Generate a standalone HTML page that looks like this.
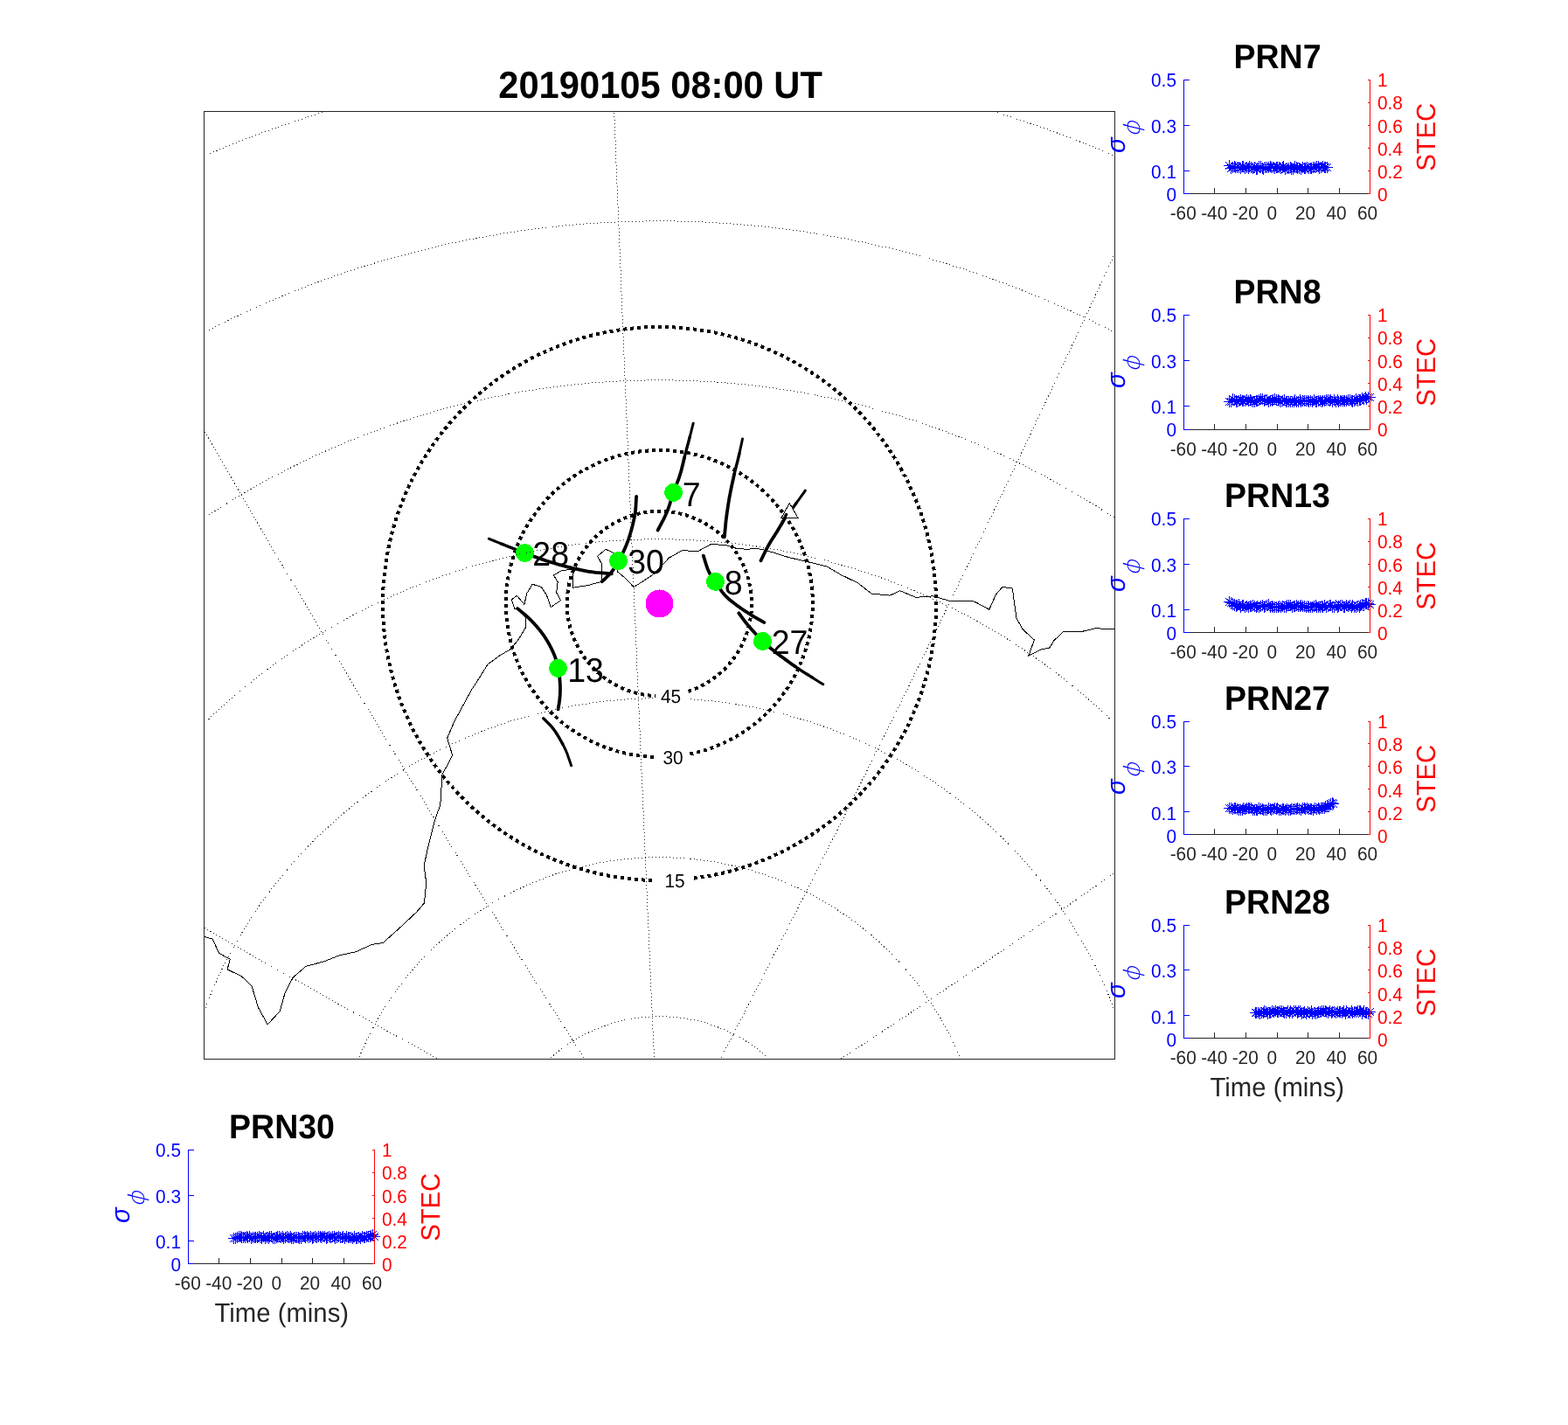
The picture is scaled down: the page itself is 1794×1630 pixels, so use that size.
<!DOCTYPE html>
<html><head><meta charset="utf-8"><title>20190105 08:00 UT</title>
<style>html,body{margin:0;padding:0;background:#fff}svg{display:block}</style></head>
<body><svg width="1794" height="1630" viewBox="0 0 1794 1630" font-family='"Liberation Sans", Arial, Helvetica, sans-serif' text-rendering="geometricPrecision">
<rect width="1794" height="1630" fill="#fff"/>
<defs><clipPath id="mapclip"><rect x="234" y="128" width="1041" height="1083"/></clipPath></defs>
<g clip-path="url(#mapclip)">
<polyline fill="none" stroke="#000" stroke-width="1" shape-rendering="crispEdges" points="230,1071.1 233.9,1071.5 243.3,1074.1 250.4,1090.2 263.3,1097.3 260.1,1108.9 276.2,1116.6 288,1127.8 295.5,1152.5 306.2,1171.8 320.2,1156.8 326.2,1135.3 335.2,1118.1 350.2,1105.2 370.6,1099.9 387.8,1093 407.2,1088.7 425.4,1080.5 438.3,1078.4 458.7,1060.1 476.9,1043 485.5,1032.9 487.7,1009.7 485.1,990.3 489.8,968.9 497.3,938.8 503.8,920.6 505.9,886.2 517.7,864.1 511.7,844.3 519.9,825 540,788.2 547.7,776.6 558,759.9 572.2,749.6 584.4,742.5 594.1,730.2 601.6,717.4 601.8,707.1 592.3,696.9 589,696.9 585.4,685.8 591.4,681.3 599.9,691.3 602.9,678.5 609.2,668.3 619.1,671.3 625.2,680.2 630.2,694.5 641.6,686.7 636.7,678 638.2,665.7 633.5,657.9 642.5,652.7 655.3,651.2 655.6,672.2 672.6,669.6 688.7,665.2 688.7,645.6 683.7,636.2 693,628.4 701,631.7 707.7,641.7 706.6,654 716,661.8 725,671.5 737.2,664 748.4,656.2 759.5,644.5 766.2,637.3 765.5,638.1 780.3,629.8 799,630.4 813.1,622.7 829.9,623.3 844,627.8 856.9,628.2 860.8,627.2 871.1,628.2 884,631.7 902,637.5 921.3,642 945.8,647.8 962.2,657.5 981.5,666.8 997,679 1018,681.1 1029.8,675.8 1047.7,683.3 1067.4,681.8 1085.7,687.2 1111.4,687.2 1116.8,689.1 1131.8,697.2 1139.4,680.1 1146.9,671.5 1158.3,673 1160.8,691.9 1163,707.3 1170.1,719.8 1183.4,732 1176.9,749.9 1191.5,742.8 1200.6,741.3 1205.9,732.7 1216.7,722.4 1237.1,722.6 1253.2,718.7 1274.6,719.8 1277.9,719.8"/>
<g fill="none" stroke="#000" stroke-width="4" stroke-dasharray="4 4" shape-rendering="crispEdges">
<path d="M793.7,1004.6 A316.5,316.5 0 1 0 749.6,1007"/>
<path d="M789.4,862.5 A175.5,175.5 0 1 0 750.7,866"/>
<path d="M787.4,790.8 A105.6,105.6 0 1 0 750,796"/>
</g>
<g fill="none" stroke="#000" stroke-linecap="round">
<path stroke-width="3.0" d="M559.3,616.2L560.8,616.8M560.8,616.8L562.7,617.6M562.7,617.6L565,618.5M565,618.5L567.6,619.6M567.6,619.6L570.3,620.7M570.3,620.7L573.1,621.8M793.2,484.2L792.8,485.6M792.8,485.6L792.4,487.4M792.4,487.4L791.8,489.6M791.8,489.6L791.2,492M791.2,492L790.6,494.6M790.6,494.6L789.9,497.2M789.9,497.2L789.2,499.8M849.5,502L849.2,503.5M849.2,503.5L848.8,505.5M848.8,505.5L848.3,507.8M848.3,507.8L847.7,510.5M847.7,510.5L847.1,513.2M847.1,513.2L846.5,516.1M846.5,516.1L845.9,518.9M921.3,561.2L920.5,562.3M920.5,562.3L919.5,563.8M919.5,563.8L918.2,565.5M918.2,565.5L916.9,567.4M916.9,567.4L915.4,569.5M915.4,569.5L913.9,571.6M913.9,571.6L912.4,573.6M912.4,573.6L911,575.6M929.6,775.2L931.6,776.4M931.6,776.4L933.6,777.7M933.6,777.7L935.6,779M935.6,779L937.5,780.2M937.5,780.2L939.2,781.2M939.2,781.2L940.6,782.1M940.6,782.1L941.7,782.8M643.6,850.8L644.4,852.3M644.4,852.3L645.2,853.9M645.2,853.9L646,855.4M646,855.4L646.7,857M646.7,857L647.5,858.7M647.5,858.7L648.2,860.4M648.2,860.4L649,862.3M649,862.3L649.7,864.4M649.7,864.4L650.5,866.7M650.5,866.7L651.3,868.9M651.3,868.9L652,871M652,871L652.7,873M652.7,873L653.2,874.6M653.2,874.6L653.6,875.8"/>
<path stroke-width="3.4" d="M573.1,621.8L575.9,622.9M575.9,622.9L578.6,624M578.6,624L581.3,625.1M581.3,625.1L584,626.1M584,626.1L586.9,627.3M586.9,627.3L589.8,628.4M589.8,628.4L592.6,629.5M592.6,629.5L595.4,630.6M789.2,499.8L788.6,502.2M788.6,502.2L788,504.5M788,504.5L787.4,506.9M787.4,506.9L786.7,509.3M786.7,509.3L786.1,511.7M786.1,511.7L785.4,514.1M785.4,514.1L784.8,516.6M784.8,516.6L784.1,519M784.1,519L783.5,521.5M783.5,521.5L782.9,524M845.9,518.9L845.3,521.5M845.3,521.5L844.7,524M844.7,524L844.1,526.5M844.1,526.5L843.5,529M843.5,529L842.8,531.5M842.8,531.5L842.2,534M842.2,534L841.5,536.7M841.5,536.7L840.8,539.3M840.8,539.3L840.2,542.1M911,575.6L909.6,577.5M909.6,577.5L908.2,579.4M908.2,579.4L906.7,581.3M906.7,581.3L905.2,583.2M905.2,583.2L903.7,585.1M903.7,585.1L902.2,587.1M902.2,587.1L900.8,589.1M900.8,589.1L899.4,591.1M899.4,591.1L898.1,593.1M898.1,593.1L896.7,595.2M896.7,595.2L895.4,597.3M909.8,762.4L911.7,763.7M911.7,763.7L913.6,765M913.6,765L915.4,766.2M915.4,766.2L917.2,767.4M917.2,767.4L919,768.5M919,768.5L920.8,769.6M920.8,769.6L922.5,770.7M922.5,770.7L924.3,771.8M924.3,771.8L926,772.9M926,772.9L927.8,774M927.8,774L929.6,775.2M621.8,821.7L622.7,822.6M622.7,822.6L623.8,823.7M623.8,823.7L625.2,825.1M625.2,825.1L626.7,826.6M626.7,826.6L628.3,828.2M628.3,828.2L629.9,829.9M629.9,829.9L631.4,831.6M631.4,831.6L632.8,833.3M632.8,833.3L634,835M634,835L635.3,836.7M635.3,836.7L636.4,838.5M636.4,838.5L637.6,840.3M637.6,840.3L638.7,842.2M638.7,842.2L639.8,844M639.8,844L640.8,845.8M640.8,845.8L641.8,847.5M641.8,847.5L642.7,849.2M642.7,849.2L643.6,850.8"/>
<path stroke-width="3.8" d="M595.4,630.6L598.1,631.6M598.1,631.6L600.6,632.6M600.6,632.6L602.9,633.5M602.9,633.5L605.1,634.3M605.1,634.3L607.1,635.1M607.1,635.1L609.1,635.9M609.1,635.9L611.1,636.6M611.1,636.6L613.1,637.3M613.1,637.3L615.1,638M615.1,638L617.3,638.8M617.3,638.8L619.6,639.6M619.6,639.6L621.9,640.4M621.9,640.4L624.3,641.2M624.3,641.2L626.8,642M626.8,642L629.2,642.8M629.2,642.8L631.7,643.5M631.7,643.5L634.2,644.3M634.2,644.3L636.6,645M636.6,645L639,645.7M639,645.7L641.4,646.4M641.4,646.4L643.9,647M643.9,647L646.3,647.7M646.3,647.7L648.7,648.3M648.7,648.3L651.2,648.9M651.2,648.9L653.6,649.5M653.6,649.5L656,650.1M656,650.1L658.4,650.7M658.4,650.7L660.7,651.2M660.7,651.2L663,651.7M663,651.7L665.3,652.2M665.3,652.2L667.7,652.7M667.7,652.7L670.1,653.2M670.1,653.2L672.6,653.6M672.6,653.6L675.3,654M675.3,654L678.3,654.4M678.3,654.4L681.6,654.8M681.6,654.8L685.2,655.1M685.2,655.1L688.8,655.4M688.8,655.4L692.2,655.7M692.2,655.7L695.3,656M695.3,656L697.9,656.2M697.9,656.2L699.8,656.4M728.1,567.9L728,569.3M728,569.3L727.9,571.2M727.9,571.2L727.8,573.5M727.8,573.5L727.6,576M727.6,576L727.5,578.6M727.5,578.6L727.3,581.2M727.3,581.2L727.1,583.7M727.1,583.7L726.8,586M726.8,586L726.5,588.1M726.5,588.1L726.2,590M726.2,590L725.8,592M725.8,592L725.4,593.9M725.4,593.9L725,595.7M725,595.7L724.5,597.6M724.5,597.6L724.1,599.5M724.1,599.5L723.6,601.4M723.6,601.4L723.1,603.3M723.1,603.3L722.6,605.3M722.6,605.3L722.1,607.3M722.1,607.3L721.5,609.2M721.5,609.2L720.9,611.2M720.9,611.2L720.3,613.1M720.3,613.1L719.7,615M719.7,615L719.1,616.9M719.1,616.9L718.4,618.8M718.4,618.8L717.7,620.6M717.7,620.6L717,622.4M717,622.4L716.3,624.3M716.3,624.3L715.5,626M715.5,626L714.8,627.8M714.8,627.8L714,629.4M714,629.4L713.3,631M713.3,631L712.6,632.5M712.6,632.5L711.9,633.8M711.9,633.8L711.2,635.1M711.2,635.1L710.5,636.4M710.5,636.4L709.8,637.6M709.8,637.6L709.1,638.9M709.1,638.9L708.3,640.2M708.3,640.2L707.5,641.6M707.5,641.6L706.7,643.1M706.7,643.1L705.8,644.6M705.8,644.6L704.9,646.2M704.9,646.2L704,647.9M704,647.9L703,649.5M703,649.5L702,651.1M702,651.1L700.9,652.7M700.9,652.7L699.8,654.2M699.8,654.2L698.5,655.7M698.5,655.7L697,657.3M697,657.3L695.4,658.9M695.4,658.9L693.8,660.5M693.8,660.5L692.3,662M692.3,662L690.9,663.3M690.9,663.3L689.7,664.4M689.7,664.4L688.8,665.2M782.9,524L782.3,526.5M782.3,526.5L781.7,529.1M781.7,529.1L781.1,531.7M781.1,531.7L780.4,534.3M780.4,534.3L779.8,536.9M779.8,536.9L779.1,539.5M779.1,539.5L778.3,542.1M778.3,542.1L777.5,544.7M777.5,544.7L776.6,547.3M776.6,547.3L775.6,550M775.6,550L774.6,552.6M774.6,552.6L773.6,555.3M773.6,555.3L772.6,558M772.6,558L771.6,560.7M771.6,560.7L770.6,563.4M770.6,563.4L769.7,566.2M769.7,566.2L768.7,569M768.7,569L767.8,571.9M767.8,571.9L766.9,574.7M766.9,574.7L766,577.6M766,577.6L765,580.5M765,580.5L764,583.3M764,583.3L762.9,586M762.9,586L761.7,588.8M761.7,588.8L760.3,591.8M760.3,591.8L758.8,594.8M758.8,594.8L757.3,597.7M757.3,597.7L755.8,600.5M755.8,600.5L754.5,602.9M754.5,602.9L753.4,605M753.4,605L752.6,606.6M840.2,542.1L839.5,545M839.5,545L838.9,548M838.9,548L838.2,551M838.2,551L837.5,554.1M837.5,554.1L836.9,557.2M836.9,557.2L836.2,560.4M836.2,560.4L835.6,563.5M835.6,563.5L835,566.6M835,566.6L834.4,569.7M834.4,569.7L833.9,572.8M833.9,572.8L833.4,575.8M833.4,575.8L832.9,578.9M832.9,578.9L832.5,582M832.5,582L832,585.1M832,585.1L831.6,588.1M831.6,588.1L831.2,591.1M831.2,591.1L830.8,594.2M830.8,594.2L830.4,597.5M830.4,597.5L830.1,600.9M830.1,600.9L829.8,604.2M829.8,604.2L829.5,607.4M829.5,607.4L829.2,610.2M829.2,610.2L829,612.5M829,612.5L828.8,614.3M895.4,597.3L894.2,599.4M894.2,599.4L892.9,601.6M892.9,601.6L891.6,603.7M891.6,603.7L890.4,605.8M890.4,605.8L889.1,607.9M889.1,607.9L887.8,610M887.8,610L886.5,612.1M886.5,612.1L885.1,614.2M885.1,614.2L883.8,616.3M883.8,616.3L882.5,618.3M882.5,618.3L881.2,620.4M881.2,620.4L880,622.5M880,622.5L878.8,624.6M878.8,624.6L877.6,626.8M877.6,626.8L876.4,629.2M876.4,629.2L875.2,631.6M875.2,631.6L874,634M874,634L872.9,636.3M872.9,636.3L871.9,638.3M871.9,638.3L871.1,640M871.1,640L870.5,641.3M804.8,635.6L805.2,637M805.2,637L805.8,638.8M805.8,638.8L806.5,641.1M806.5,641.1L807.2,643.5M807.2,643.5L808,646.1M808,646.1L808.9,648.6M808.9,648.6L809.7,651M809.7,651L810.6,653M810.6,653L811.5,654.8M811.5,654.8L812.3,656.4M812.3,656.4L813.2,657.8M813.2,657.8L814.2,659.3M814.2,659.3L815.1,660.7M815.1,660.7L816.1,662.1M816.1,662.1L817.2,663.6M817.2,663.6L818.3,665.2M818.3,665.2L819.5,667M819.5,667L820.7,668.8M820.7,668.8L821.9,670.8M821.9,670.8L823.2,672.7M823.2,672.7L824.5,674.7M824.5,674.7L825.9,676.6M825.9,676.6L827.2,678.3M827.2,678.3L828.6,680M828.6,680L830,681.5M830,681.5L831.4,682.9M831.4,682.9L832.8,684.2M832.8,684.2L834.2,685.5M834.2,685.5L835.7,686.7M835.7,686.7L837.2,687.9M837.2,687.9L838.7,689.1M838.7,689.1L840.2,690.3M840.2,690.3L841.8,691.5M841.8,691.5L843.4,692.7M843.4,692.7L845.1,693.9M845.1,693.9L846.7,695M846.7,695L848.4,696.2M848.4,696.2L850,697.3M850,697.3L851.6,698.3M851.6,698.3L853.1,699.3M853.1,699.3L854.5,700.2M854.5,700.2L855.8,701.1M855.8,701.1L857.1,701.9M857.1,701.9L858.4,702.7M858.4,702.7L859.6,703.5M859.6,703.5L860.8,704.3M860.8,704.3L862.1,705M862.1,705L863.4,705.8M863.4,705.8L864.8,706.6M864.8,706.6L866.3,707.5M866.3,707.5L867.9,708.4M867.9,708.4L869.5,709.3M869.5,709.3L871,710.1M871,710.1L872.3,710.9M872.3,710.9L873.5,711.5M873.5,711.5L874.3,712M845.3,701.3L846,702.3M846,702.3L846.9,703.5M846.9,703.5L848.1,705.1M848.1,705.1L849.3,706.8M849.3,706.8L850.6,708.5M850.6,708.5L851.9,710.3M851.9,710.3L853.2,712M853.2,712L854.4,713.5M854.4,713.5L855.5,714.9M855.5,714.9L856.7,716.2M856.7,716.2L857.8,717.5M857.8,717.5L858.9,718.8M858.9,718.8L860,720.1M860,720.1L861.2,721.3M861.2,721.3L862.3,722.6M862.3,722.6L863.4,723.8M863.4,723.8L864.5,725M864.5,725L865.6,726.2M865.6,726.2L866.6,727.4M866.6,727.4L867.7,728.6M867.7,728.6L868.7,729.8M868.7,729.8L869.9,731M869.9,731L871.1,732.2M871.1,732.2L872.4,733.5M872.4,733.5L873.8,734.8M873.8,734.8L875.4,736.2M875.4,736.2L877,737.6M877,737.6L878.6,739M878.6,739L880.3,740.3M880.3,740.3L882,741.7M882,741.7L883.7,743.1M883.7,743.1L885.3,744.4M885.3,744.4L886.9,745.7M886.9,745.7L888.5,746.9M888.5,746.9L890,748.1M890,748.1L891.6,749.2M891.6,749.2L893.2,750.4M893.2,750.4L894.8,751.6M894.8,751.6L896.5,752.8M896.5,752.8L898.2,754.1M898.2,754.1L900,755.4M900,755.4L901.9,756.8M901.9,756.8L903.8,758.2M903.8,758.2L905.8,759.6M905.8,759.6L907.8,761M907.8,761L909.8,762.4M592.2,696.1L593.4,697.1M593.4,697.1L594.9,698.4M594.9,698.4L596.7,699.9M596.7,699.9L598.8,701.6M598.8,701.6L600.9,703.5M600.9,703.5L603.1,705.3M603.1,705.3L605.1,707.2M605.1,707.2L607,709M607,709L608.7,710.8M608.7,710.8L610.5,712.6M610.5,712.6L612.1,714.4M612.1,714.4L613.8,716.3M613.8,716.3L615.4,718.2M615.4,718.2L617,720.1M617,720.1L618.5,722M618.5,722L619.9,723.8M619.9,723.8L621.2,725.6M621.2,725.6L622.5,727.4M622.5,727.4L623.7,729.2M623.7,729.2L624.8,730.9M624.8,730.9L625.9,732.7M625.9,732.7L626.9,734.5M626.9,734.5L627.9,736.2M627.9,736.2L628.9,738M628.9,738L629.8,739.8M629.8,739.8L630.8,741.6M630.8,741.6L631.6,743.4M631.6,743.4L632.5,745.2M632.5,745.2L633.2,746.9M633.2,746.9L634,748.7M634,748.7L634.7,750.4M634.7,750.4L635.3,752.1M635.3,752.1L635.9,753.7M635.9,753.7L636.4,755.2M636.4,755.2L636.8,756.7M636.8,756.7L637.2,758.1M637.2,758.1L637.6,759.6M637.6,759.6L637.9,761.1M637.9,761.1L638.3,762.7M638.3,762.7L638.6,764.4M638.6,764.4L638.9,766.2M638.9,766.2L639.3,768.2M639.3,768.2L639.6,770.2M639.6,770.2L639.9,772.2M639.9,772.2L640.1,774.3M640.1,774.3L640.4,776.4M640.4,776.4L640.5,778.5M640.5,778.5L640.7,780.5M640.7,780.5L640.8,782.5M640.8,782.5L640.9,784.4M640.9,784.4L640.9,786.4M640.9,786.4L641,788.3M641,788.3L640.9,790.2M640.9,790.2L640.9,792.1M640.9,792.1L640.8,794.1M640.8,794.1L640.7,796M640.7,796L640.5,798M640.5,798L640.3,800.2M640.3,800.2L640,802.5M640,802.5L639.7,804.7M639.7,804.7L639.3,806.8M639.3,806.8L639,808.6M639,808.6L638.8,810.2M638.8,810.2L638.6,811.4"/>
</g>
<polygon points="903.3,575.6 894,592.4 913,592.4" fill="#fff" stroke="#000" stroke-width="1" shape-rendering="crispEdges"/>
<path d="M899.6,588.5L894.2,599.5" fill="none" stroke="#000" stroke-width="3.4" stroke-linecap="round"/>
<g shape-rendering="crispEdges">
<circle cx="600.5" cy="632.5" r="10.5" fill="#00ff00"/>
<circle cx="707.5" cy="641.5" r="10.5" fill="#00ff00"/>
<circle cx="770.5" cy="563.4" r="10.5" fill="#00ff00"/>
<circle cx="818.55" cy="665.4" r="10.5" fill="#00ff00"/>
<circle cx="638.5" cy="764.4" r="10.5" fill="#00ff00"/>
<circle cx="872.55" cy="733.55" r="10.5" fill="#00ff00"/>
<circle cx="754.5" cy="690.5" r="16" fill="#ff00ff"/>
<rect x="754" y="674" width="1" height="1" fill="#ff0000"/>
</g>
<g fill="none" stroke="#262626" stroke-width="1" stroke-dasharray="1 3" shape-rendering="crispEdges">
<path d="M596.7,1249.7L597.5,1248.3L598.4,1247L599.3,1245.6L600.1,1244.3L601,1243L601.9,1241.7L602.9,1240.4L603.8,1239.1L604.7,1237.8L605.7,1236.6L606.6,1235.3L607.6,1234L608.6,1232.8L609.6,1231.5L610.6,1230.3L611.6,1229.1L612.6,1227.9L613.6,1226.7L614.7,1225.5L615.7,1224.3L616.8,1223.1L617.9,1221.9L619,1220.8L620.1,1219.6L621.2,1218.5L622.3,1217.3L623.4,1216.2L624.6,1215.1L625.7,1214L626.9,1212.9L628,1211.8L629.2,1210.7L630.4,1209.7L631.6,1208.6L632.8,1207.6L634,1206.6L635.2,1205.5L636.4,1204.5L637.7,1203.5L638.9,1202.5L640.2,1201.6L641.4,1200.6L642.7,1199.6L644,1198.7L645.3,1197.7L646.6,1196.8L647.9,1195.9L649.2,1195L650.5,1194.1L651.8,1193.2L653.2,1192.4L654.5,1191.5L655.9,1190.7L657.2,1189.8L658.6,1189L660,1188.2L661.4,1187.4L662.7,1186.6L664.1,1185.8L665.5,1185.1L666.9,1184.3L668.4,1183.6L669.8,1182.8L671.2,1182.1L672.6,1181.4L674.1,1180.7L675.5,1180.1L677,1179.4L678.4,1178.7L679.9,1178.1L681.4,1177.5L682.8,1176.9L684.3,1176.2L685.8,1175.7L687.3,1175.1L688.8,1174.5L690.3,1174L691.8,1173.4L693.3,1172.9L694.8,1172.4L696.3,1171.9L697.8,1171.4L699.4,1170.9L700.9,1170.5L702.4,1170L704,1169.6L705.5,1169.1L707,1168.7L708.6,1168.3L710.1,1168L711.7,1167.6L713.3,1167.2L714.8,1166.9L716.4,1166.5L718,1166.2L719.5,1165.9L721.1,1165.6L722.7,1165.4L724.2,1165.1L725.8,1164.8L727.4,1164.6L729,1164.4L730.6,1164.2L732.2,1164L733.8,1163.8L735.3,1163.6L736.9,1163.5L738.5,1163.3L740.1,1163.2L741.7,1163.1L743.3,1163L744.9,1162.9L746.5,1162.8L748.1,1162.8L749.7,1162.7L751.3,1162.7L752.9,1162.7L754.5,1162.6L756.1,1162.7L757.7,1162.7L759.3,1162.7L760.9,1162.8L762.5,1162.8L764.1,1162.9L765.7,1163L767.3,1163.1L768.9,1163.2L770.5,1163.3L772.1,1163.5L773.7,1163.6L775.2,1163.8L776.8,1164L778.4,1164.2L780,1164.4L781.6,1164.6L783.2,1164.8L784.8,1165.1L786.3,1165.4L787.9,1165.6L789.5,1165.9L791,1166.2L792.6,1166.5L794.2,1166.9L795.7,1167.2L797.3,1167.6L798.9,1168L800.4,1168.3L802,1168.7L803.5,1169.1L805,1169.6L806.6,1170L808.1,1170.5L809.6,1170.9L811.2,1171.4L812.7,1171.9L814.2,1172.4L815.7,1172.9L817.2,1173.4L818.7,1174L820.2,1174.5L821.7,1175.1L823.2,1175.7L824.7,1176.2L826.2,1176.9L827.6,1177.5L829.1,1178.1L830.6,1178.7L832,1179.4L833.5,1180.1L834.9,1180.7L836.4,1181.4L837.8,1182.1L839.2,1182.8L840.6,1183.6L842.1,1184.3L843.5,1185.1L844.9,1185.8L846.3,1186.6L847.6,1187.4L849,1188.2L850.4,1189L851.8,1189.8L853.1,1190.7L854.5,1191.5L855.8,1192.4L857.2,1193.2L858.5,1194.1L859.8,1195L861.1,1195.9L862.4,1196.8L863.7,1197.7L865,1198.7L866.3,1199.6L867.6,1200.6L868.8,1201.6L870.1,1202.5L871.3,1203.5L872.6,1204.5L873.8,1205.5L875,1206.6L876.2,1207.6L877.4,1208.6L878.6,1209.7L879.8,1210.7L881,1211.8L882.1,1212.9L883.3,1214L884.4,1215.1L885.6,1216.2L886.7,1217.3L887.8,1218.5L888.9,1219.6L890,1220.8L891.1,1221.9L892.2,1223.1L893.3,1224.3L894.3,1225.5L895.4,1226.7L896.4,1227.9L897.4,1229.1L898.4,1230.3L899.4,1231.5L900.4,1232.8L901.4,1234L902.4,1235.3L903.3,1236.6L904.3,1237.8L905.2,1239.1L906.1,1240.4L907.1,1241.7L908,1243L908.9,1244.3L909.7,1245.6L910.6,1247L911.5,1248.3L912.3,1249.7"/>
<path d="M397.2,1250.2L398,1247.2L398.9,1244.2L399.8,1241.1L400.7,1238.1L401.7,1235.1L402.7,1232.1L403.7,1229.1L404.7,1226.1L405.8,1223.1L406.8,1220.1L408,1217.2L409.1,1214.2L410.2,1211.3L411.4,1208.4L412.6,1205.4L413.9,1202.5L415.2,1199.6L416.4,1196.7L417.8,1193.9L419.1,1191L420.5,1188.2L421.8,1185.3L423.3,1182.5L424.7,1179.7L426.2,1176.9L427.7,1174.1L429.2,1171.3L430.7,1168.5L432.3,1165.8L433.8,1163.1L435.4,1160.3L437.1,1157.6L438.7,1154.9L440.4,1152.3L442.1,1149.6L443.8,1147L445.6,1144.3L447.4,1141.7L449.1,1139.1L451,1136.5L452.8,1134L454.7,1131.4L456.5,1128.9L458.4,1126.3L460.4,1123.8L462.3,1121.3L464.3,1118.9L466.3,1116.4L468.3,1114L470.3,1111.6L472.4,1109.2L474.5,1106.8L476.5,1104.4L478.7,1102.1L480.8,1099.7L483,1097.4L485.1,1095.1L487.3,1092.9L489.5,1090.6L491.8,1088.4L494,1086.2L496.3,1084L498.6,1081.8L500.9,1079.6L503.2,1077.5L505.6,1075.4L507.9,1073.3L510.3,1071.2L512.7,1069.1L515.1,1067.1L517.6,1065.1L520,1063.1L522.5,1061.1L525,1059.2L527.5,1057.2L530,1055.3L532.6,1053.4L535.1,1051.6L537.7,1049.7L540.3,1047.9L542.9,1046.1L545.5,1044.3L548.1,1042.6L550.8,1040.8L553.4,1039.1L556.1,1037.4L558.8,1035.8L561.5,1034.1L564.2,1032.5L566.9,1030.9L569.7,1029.3L572.4,1027.8L575.2,1026.3L578,1024.8L580.8,1023.3L583.6,1021.8L586.4,1020.4L589.3,1019L592.1,1017.6L595,1016.3L597.9,1014.9L600.7,1013.6L603.6,1012.3L606.5,1011.1L609.4,1009.8L612.4,1008.6L615.3,1007.4L618.3,1006.3L621.2,1005.1L624.2,1004L627.1,1002.9L630.1,1001.9L633.1,1000.8L636.1,999.8L639.1,998.8L642.2,997.9L645.2,996.9L648.2,996L651.3,995.1L654.3,994.3L657.4,993.5L660.4,992.7L663.5,991.9L666.6,991.1L669.7,990.4L672.8,989.7L675.8,989L679,988.4L682.1,987.7L685.2,987.1L688.3,986.6L691.4,986L694.5,985.5L697.7,985L700.8,984.5L703.9,984.1L707.1,983.7L710.2,983.3L713.4,982.9L716.5,982.6L719.7,982.3L722.8,982L726,981.8L729.2,981.5L732.3,981.3L735.5,981.2L738.7,981L741.8,980.9L745,980.8L748.2,980.7L751.3,980.7L754.5,980.7L757.7,980.7L760.8,980.7L764,980.8L767.2,980.9L770.3,981L773.5,981.2L776.7,981.3L779.8,981.5L783,981.8L786.2,982L789.3,982.3L792.5,982.6L795.6,982.9L798.8,983.3L801.9,983.7L805.1,984.1L808.2,984.5L811.3,985L814.5,985.5L817.6,986L820.7,986.6L823.8,987.1L826.9,987.7L830,988.4L833.2,989L836.2,989.7L839.3,990.4L842.4,991.1L845.5,991.9L848.6,992.7L851.6,993.5L854.7,994.3L857.7,995.1L860.8,996L863.8,996.9L866.8,997.9L869.9,998.8L872.9,999.8L875.9,1000.8L878.9,1001.9L881.9,1002.9L884.8,1004L887.8,1005.1L890.7,1006.3L893.7,1007.4L896.6,1008.6L899.6,1009.8L902.5,1011.1L905.4,1012.3L908.3,1013.6L911.1,1014.9L914,1016.3L916.9,1017.6L919.7,1019L922.6,1020.4L925.4,1021.8L928.2,1023.3L931,1024.8L933.8,1026.3L936.6,1027.8L939.3,1029.3L942.1,1030.9L944.8,1032.5L947.5,1034.1L950.2,1035.8L952.9,1037.4L955.6,1039.1L958.2,1040.8L960.9,1042.6L963.5,1044.3L966.1,1046.1L968.7,1047.9L971.3,1049.7L973.9,1051.6L976.4,1053.4L979,1055.3L981.5,1057.2L984,1059.2L986.5,1061.1L989,1063.1L991.4,1065.1L993.9,1067.1L996.3,1069.1L998.7,1071.2L1001.1,1073.3L1003.4,1075.4L1005.8,1077.5L1008.1,1079.6L1010.4,1081.8L1012.7,1084L1015,1086.2L1017.2,1088.4L1019.5,1090.6L1021.7,1092.9L1023.9,1095.1L1026,1097.4L1028.2,1099.7L1030.3,1102.1L1032.5,1104.4L1034.5,1106.8L1036.6,1109.2L1038.7,1111.6L1040.7,1114L1042.7,1116.4L1044.7,1118.9L1046.7,1121.3L1048.6,1123.8L1050.6,1126.3L1052.5,1128.9L1054.3,1131.4L1056.2,1134L1058,1136.5L1059.9,1139.1L1061.6,1141.7L1063.4,1144.3L1065.2,1147L1066.9,1149.6L1068.6,1152.3L1070.3,1154.9L1071.9,1157.6L1073.6,1160.3L1075.2,1163.1L1076.7,1165.8L1078.3,1168.5L1079.8,1171.3L1081.3,1174.1L1082.8,1176.9L1084.3,1179.7L1085.7,1182.5L1087.2,1185.3L1088.5,1188.2L1089.9,1191L1091.2,1193.9L1092.6,1196.7L1093.8,1199.6L1095.1,1202.5L1096.4,1205.4L1097.6,1208.4L1098.8,1211.3L1099.9,1214.2L1101,1217.2L1102.2,1220.1L1103.2,1223.1L1104.3,1226.1L1105.3,1229.1L1106.3,1232.1L1107.3,1235.1L1108.3,1238.1L1109.2,1241.1L1110.1,1244.2L1111,1247.2L1111.8,1250.2"/>
<path d="M208.1,1249.1L208.9,1244.4L209.8,1239.8L210.8,1235.1L211.8,1230.5L212.8,1225.9L213.9,1221.3L215,1216.6L216.1,1212.1L217.3,1207.5L218.5,1202.9L219.8,1198.3L221.1,1193.8L222.5,1189.2L223.9,1184.7L225.3,1180.2L226.7,1175.7L228.2,1171.2L229.8,1166.8L231.4,1162.3L233,1157.9L234.7,1153.4L236.4,1149L238.1,1144.6L239.9,1140.2L241.7,1135.9L243.5,1131.5L245.4,1127.2L247.3,1122.9L249.3,1118.6L251.3,1114.3L253.3,1110L255.4,1105.8L257.5,1101.6L259.7,1097.4L261.9,1093.2L264.1,1089L266.3,1084.9L268.6,1080.8L271,1076.7L273.3,1072.6L275.7,1068.5L278.2,1064.5L280.6,1060.4L283.1,1056.4L285.7,1052.5L288.2,1048.5L290.8,1044.6L293.5,1040.7L296.1,1036.8L298.8,1032.9L301.6,1029.1L304.4,1025.3L307.2,1021.5L310,1017.7L312.9,1014L315.8,1010.3L318.7,1006.6L321.7,1002.9L324.7,999.3L327.7,995.7L330.7,992.1L333.8,988.5L336.9,985L340.1,981.5L343.3,978L346.5,974.6L349.7,971.1L353,967.7L356.3,964.4L359.6,961L363,957.7L366.3,954.4L369.7,951.2L373.2,948L376.6,944.8L380.1,941.6L383.6,938.5L387.2,935.4L390.8,932.3L394.4,929.3L398,926.2L401.6,923.3L405.3,920.3L409,917.4L412.7,914.5L416.5,911.7L420.2,908.8L424,906L427.8,903.3L431.7,900.6L435.5,897.9L439.4,895.2L443.3,892.6L447.3,890L451.2,887.4L455.2,884.9L459.2,882.4L463.2,880L467.2,877.5L471.3,875.1L475.4,872.8L479.5,870.5L483.6,868.2L487.7,865.9L491.9,863.7L496.1,861.5L500.2,859.4L504.5,857.3L508.7,855.2L512.9,853.2L517.2,851.1L521.5,849.2L525.8,847.2L530.1,845.4L534.4,843.5L538.7,841.7L543.1,839.9L547.5,838.1L551.9,836.4L556.3,834.7L560.7,833.1L565.1,831.5L569.6,829.9L574,828.4L578.5,826.9L583,825.5L587.4,824.1L592,822.7L596.5,821.3L601,820L605.5,818.8L610.1,817.5L614.6,816.4L619.2,815.2L623.8,814.1L628.4,813L633,812L637.6,811L642.2,810L646.8,809.1L651.4,808.2L656.1,807.4L660.7,806.6L665.4,805.8L670,805.1L674.7,804.4L679.3,803.8L684,803.2L688.7,802.6L693.4,802.1L698.1,801.6L702.7,801.1L707.4,800.7L712.1,800.3L716.8,800L721.5,799.7L726.2,799.5L731,799.2L735.7,799.1L740.4,798.9L745.1,798.8L749.8,798.8L754.5,798.7L759.2,798.8L763.9,798.8L768.6,798.9L773.3,799.1L778,799.2L782.8,799.5L787.5,799.7L792.2,800L796.9,800.3L801.6,800.7L806.3,801.1L810.9,801.6L815.6,802.1L820.3,802.6L825,803.2L829.7,803.8L834.3,804.4L839,805.1L843.6,805.8L848.3,806.6L852.9,807.4L857.6,808.2L862.2,809.1L866.8,810L871.4,811L876,812L880.6,813L885.2,814.1L889.8,815.2L894.4,816.4L898.9,817.5L903.5,818.8L908,820L912.5,821.3L917,822.7L921.6,824.1L926,825.5L930.5,826.9L935,828.4L939.4,829.9L943.9,831.5L948.3,833.1L952.7,834.7L957.1,836.4L961.5,838.1L965.9,839.9L970.3,841.7L974.6,843.5L978.9,845.4L983.2,847.2L987.5,849.2L991.8,851.1L996.1,853.2L1000.3,855.2L1004.5,857.3L1008.8,859.4L1012.9,861.5L1017.1,863.7L1021.3,865.9L1025.4,868.2L1029.5,870.5L1033.6,872.8L1037.7,875.1L1041.8,877.5L1045.8,880L1049.8,882.4L1053.8,884.9L1057.8,887.4L1061.7,890L1065.7,892.6L1069.6,895.2L1073.5,897.9L1077.3,900.6L1081.2,903.3L1085,906L1088.8,908.8L1092.5,911.7L1096.3,914.5L1100,917.4L1103.7,920.3L1107.4,923.3L1111,926.2L1114.6,929.3L1118.2,932.3L1121.8,935.4L1125.4,938.5L1128.9,941.6L1132.4,944.8L1135.8,948L1139.3,951.2L1142.7,954.4L1146,957.7L1149.4,961L1152.7,964.4L1156,967.7L1159.3,971.1L1162.5,974.6L1165.7,978L1168.9,981.5L1172.1,985L1175.2,988.5L1178.3,992.1L1181.3,995.7L1184.3,999.3L1187.3,1002.9L1190.3,1006.6L1193.2,1010.3L1196.1,1014L1199,1017.7L1201.8,1021.5L1204.6,1025.3L1207.4,1029.1L1210.2,1032.9L1212.9,1036.8L1215.5,1040.7L1218.2,1044.6L1220.8,1048.5L1223.3,1052.5L1225.9,1056.4L1228.4,1060.4L1230.8,1064.5L1233.3,1068.5L1235.7,1072.6L1238,1076.7L1240.4,1080.8L1242.7,1084.9L1244.9,1089L1247.1,1093.2L1249.3,1097.4L1251.5,1101.6L1253.6,1105.8L1255.7,1110L1257.7,1114.3L1259.7,1118.6L1261.7,1122.9L1263.6,1127.2L1265.5,1131.5L1267.3,1135.9L1269.1,1140.2L1270.9,1144.6L1272.6,1149L1274.3,1153.4L1276,1157.9L1277.6,1162.3L1279.2,1166.8L1280.8,1171.2L1282.3,1175.7L1283.7,1180.2L1285.1,1184.7L1286.5,1189.2L1287.9,1193.8L1289.2,1198.3L1290.5,1202.9L1291.7,1207.5L1292.9,1212.1L1294,1216.6L1295.1,1221.3L1296.2,1225.9L1297.2,1230.5L1298.2,1235.1L1299.2,1239.8L1300.1,1244.4L1300.9,1249.1"/>
<path d="M197,865.9L201.1,861.3L205.3,856.7L209.6,852.1L213.9,847.6L218.2,843L222.5,838.6L226.9,834.1L231.4,829.8L235.8,825.4L240.3,821.1L244.9,816.8L249.5,812.6L254.1,808.4L258.7,804.2L263.4,800.1L268.1,796L272.9,792L277.7,788L282.5,784L287.3,780.1L292.2,776.2L297.1,772.4L302.1,768.6L307.1,764.8L312.1,761.1L317.1,757.5L322.2,753.9L327.3,750.3L332.4,746.7L337.6,743.2L342.8,739.8L348,736.4L353.2,733L358.5,729.7L363.8,726.4L369.1,723.2L374.5,720L379.9,716.9L385.3,713.8L390.7,710.8L396.2,707.8L401.7,704.8L407.2,701.9L412.7,699L418.3,696.2L423.8,693.5L429.4,690.7L435.1,688.1L440.7,685.4L446.4,682.9L452.1,680.3L457.8,677.8L463.5,675.4L469.3,673L475,670.7L480.8,668.4L486.6,666.1L492.4,663.9L498.3,661.8L504.2,659.7L510,657.6L515.9,655.6L521.8,653.7L527.8,651.8L533.7,649.9L539.7,648.1L545.6,646.4L551.6,644.7L557.6,643L563.6,641.4L569.7,639.8L575.7,638.3L581.8,636.9L587.8,635.5L593.9,634.1L600,632.8L606.1,631.6L612.2,630.4L618.3,629.2L624.4,628.1L630.6,627.1L636.7,626.1L642.9,625.1L649,624.2L655.2,623.4L661.4,622.6L667.6,621.8L673.7,621.1L679.9,620.5L686.1,619.9L692.3,619.4L698.5,618.9L704.7,618.4L711,618.1L717.2,617.7L723.4,617.4L729.6,617.2L735.8,617L742.1,616.9L748.3,616.8L754.5,616.8L760.7,616.8L766.9,616.9L773.2,617L779.4,617.2L785.6,617.4L791.8,617.7L798,618.1L804.3,618.4L810.5,618.9L816.7,619.4L822.9,619.9L829.1,620.5L835.3,621.1L841.4,621.8L847.6,622.6L853.8,623.4L860,624.2L866.1,625.1L872.3,626.1L878.4,627.1L884.6,628.1L890.7,629.2L896.8,630.4L902.9,631.6L909,632.8L915.1,634.1L921.2,635.5L927.2,636.9L933.3,638.3L939.3,639.8L945.4,641.4L951.4,643L957.4,644.7L963.4,646.4L969.3,648.1L975.3,649.9L981.2,651.8L987.2,653.7L993.1,655.6L999,657.6L1004.8,659.7L1010.7,661.8L1016.6,663.9L1022.4,666.1L1028.2,668.4L1034,670.7L1039.7,673L1045.5,675.4L1051.2,677.8L1056.9,680.3L1062.6,682.9L1068.3,685.4L1073.9,688.1L1079.6,690.7L1085.2,693.5L1090.7,696.2L1096.3,699L1101.8,701.9L1107.3,704.8L1112.8,707.8L1118.3,710.8L1123.7,713.8L1129.1,716.9L1134.5,720L1139.9,723.2L1145.2,726.4L1150.5,729.7L1155.8,733L1161,736.4L1166.2,739.8L1171.4,743.2L1176.6,746.7L1181.7,750.3L1186.8,753.9L1191.9,757.5L1196.9,761.1L1201.9,764.8L1206.9,768.6L1211.9,772.4L1216.8,776.2L1221.7,780.1L1226.5,784L1231.3,788L1236.1,792L1240.9,796L1245.6,800.1L1250.3,804.2L1254.9,808.4L1259.5,812.6L1264.1,816.8L1268.7,821.1L1273.2,825.4L1277.6,829.8L1282.1,834.1L1286.5,838.6L1290.8,843L1295.1,847.6L1299.4,852.1L1303.7,856.7L1307.9,861.3L1312,865.9"/>
<path d="M193.1,621.4L199.3,616.8L205.6,612.2L211.8,607.7L218.2,603.3L224.5,598.9L230.9,594.5L237.3,590.2L243.8,586L250.3,581.8L256.8,577.6L263.4,573.6L270,569.5L276.6,565.6L283.3,561.7L290,557.8L296.7,554L303.4,550.3L310.2,546.6L317,542.9L323.9,539.4L330.8,535.8L337.7,532.4L344.6,529L351.5,525.6L358.5,522.3L365.5,519.1L372.6,516L379.6,512.8L386.7,509.8L393.8,506.8L401,503.9L408.1,501L415.3,498.2L422.5,495.4L429.8,492.7L437,490.1L444.3,487.5L451.6,485L458.9,482.5L466.2,480.1L473.6,477.8L480.9,475.5L488.3,473.3L495.7,471.1L503.2,469L510.6,467L518.1,465L525.5,463.1L533,461.3L540.5,459.5L548,457.8L555.6,456.1L563.1,454.5L570.7,453L578.2,451.5L585.8,450.1L593.4,448.7L601,447.4L608.6,446.2L616.2,445.1L623.9,444L631.5,442.9L639.2,441.9L646.8,441L654.5,440.2L662.1,439.4L669.8,438.7L677.5,438L685.2,437.4L692.9,436.9L700.6,436.4L708.3,436L716,435.6L723.7,435.3L731.4,435.1L739.1,435L746.8,434.9L754.5,434.8L762.2,434.9L769.9,435L777.6,435.1L785.3,435.3L793,435.6L800.7,436L808.4,436.4L816.1,436.9L823.8,437.4L831.5,438L839.2,438.7L846.9,439.4L854.5,440.2L862.2,441L869.8,441.9L877.5,442.9L885.1,444L892.8,445.1L900.4,446.2L908,447.4L915.6,448.7L923.2,450.1L930.8,451.5L938.3,453L945.9,454.5L953.4,456.1L961,457.8L968.5,459.5L976,461.3L983.5,463.1L990.9,465L998.4,467L1005.8,469L1013.3,471.1L1020.7,473.3L1028.1,475.5L1035.4,477.8L1042.8,480.1L1050.1,482.5L1057.4,485L1064.7,487.5L1072,490.1L1079.2,492.7L1086.5,495.4L1093.7,498.2L1100.9,501L1108,503.9L1115.2,506.8L1122.3,509.8L1129.4,512.8L1136.4,516L1143.5,519.1L1150.5,522.3L1157.5,525.6L1164.4,529L1171.3,532.4L1178.2,535.8L1185.1,539.4L1192,542.9L1198.8,546.6L1205.6,550.3L1212.3,554L1219,557.8L1225.7,561.7L1232.4,565.6L1239,569.5L1245.6,573.6L1252.2,577.6L1258.7,581.8L1265.2,586L1271.7,590.2L1278.1,594.5L1284.5,598.9L1290.8,603.3L1297.2,607.7L1303.4,612.2L1309.7,616.8"/>
<path d="M193.5,402.4L201.5,397.8L209.6,393.4L217.6,388.9L225.7,384.6L233.9,380.3L242,376.1L250.2,371.9L258.4,367.9L266.7,363.8L275,359.9L283.3,356L291.7,352.2L300.1,348.5L308.5,344.8L316.9,341.2L325.4,337.7L333.9,334.2L342.5,330.8L351,327.5L359.6,324.2L368.2,321.1L376.8,318L385.5,314.9L394.2,311.9L402.9,309L411.6,306.2L420.4,303.5L429.1,300.8L437.9,298.2L446.8,295.6L455.6,293.2L464.4,290.8L473.3,288.5L482.2,286.2L491.1,284L500,281.9L509,279.9L517.9,277.9L526.9,276.1L535.9,274.2L544.9,272.5L553.9,270.8L563,269.3L572,267.7L581,266.3L590.1,264.9L599.2,263.6L608.3,262.4L617.4,261.2L626.5,260.2L635.6,259.2L644.7,258.2L653.8,257.4L663,256.6L672.1,255.9L681.2,255.3L690.4,254.7L699.5,254.2L708.7,253.8L717.8,253.5L727,253.2L736.2,253L745.3,252.9L754.5,252.9L763.7,252.9L772.8,253L782,253.2L791.2,253.5L800.3,253.8L809.5,254.2L818.6,254.7L827.8,255.3L836.9,255.9L846,256.6L855.2,257.4L864.3,258.2L873.4,259.2L882.5,260.2L891.6,261.2L900.7,262.4L909.8,263.6L918.9,264.9L928,266.3L937,267.7L946,269.3L955.1,270.8L964.1,272.5L973.1,274.2L982.1,276.1L991.1,277.9L1000,279.9L1009,281.9L1017.9,284L1026.8,286.2L1035.7,288.5L1044.6,290.8L1053.4,293.2L1062.2,295.6L1071.1,298.2L1079.9,300.8L1088.6,303.5L1097.4,306.2L1106.1,309L1114.8,311.9L1123.5,314.9L1132.2,318L1140.8,321.1L1149.4,324.2L1158,327.5L1166.5,330.8L1175.1,334.2L1183.6,337.7L1192.1,341.2L1200.5,344.8L1208.9,348.5L1217.3,352.2L1225.7,356L1234,359.9L1242.3,363.8L1250.6,367.9L1258.8,371.9L1267,376.1L1275.1,380.3L1283.3,384.6L1291.4,388.9L1299.4,393.4L1307.5,397.8"/>
<path d="M199.9,193.5L209.5,189.1L219.2,184.7L228.9,180.4L238.7,176.2L248.4,172.1L258.3,168L268.1,164.1L278,160.2L287.9,156.4L297.8,152.6L307.8,149L317.8,145.4L327.8,142L337.9,138.6L348,135.2L358.1,132L368.2,128.8L378.3,125.8L388.5,122.8L398.7,119.9L408.9,117.1L419.2,114.3L429.4,111.7L439.7,109.1L450,106.6L460.4,104.2L470.7,101.9L481.1,99.6L491.4,97.5L501.8,95.4L512.2,93.4L522.7,91.5L533.1,89.7L543.6,87.9M965.4,87.9L975.9,89.7L986.3,91.5L996.8,93.4L1007.2,95.4L1017.6,97.5L1027.9,99.6L1038.3,101.9L1048.6,104.2L1059,106.6L1069.3,109.1L1079.6,111.7L1089.8,114.3L1100.1,117.1L1110.3,119.9L1120.5,122.8L1130.7,125.8L1140.8,128.8L1150.9,132L1161,135.2L1171.1,138.6L1181.2,142L1191.2,145.4L1201.2,149L1211.2,152.6L1221.1,156.4L1231,160.2L1240.9,164.1L1250.7,168L1260.6,172.1L1270.3,176.2L1280.1,180.4L1289.8,184.7L1299.5,189.1L1309.1,193.5"/>
<path d="M570.1,1248.3L562.9,1244.4L555.6,1240.5L548.3,1236.6L541.1,1232.7L533.8,1228.8L526.6,1224.9L519.3,1220.9L512.1,1217L504.8,1213.1L497.6,1209.1L490.3,1205.2L483.1,1201.3L475.8,1197.3L468.6,1193.4L461.4,1189.4L454.2,1185.4L446.9,1181.5L439.7,1177.5L432.5,1173.5L425.3,1169.5L418.1,1165.5L410.9,1161.5L403.7,1157.5L396.4,1153.5L389.2,1149.5L382,1145.5L374.9,1141.5L367.7,1137.5L360.5,1133.4L353.3,1129.4L346.1,1125.3L338.9,1121.3L331.7,1117.2L324.6,1113.2L317.4,1109.1L310.2,1105L303.1,1101L295.9,1096.9L288.7,1092.8L281.6,1088.7L274.4,1084.6L267.3,1080.5L260.1,1076.4L253,1072.3L245.8,1068.2L238.7,1064.1L231.6,1059.9L224.4,1055.8L217.3,1051.7L210.2,1047.5L203,1043.4L195.9,1039.2"/>
<path d="M691.4,1246.7L687,1239.9L682.6,1233L678.2,1226.1L673.8,1219.2L669.5,1212.3L665.1,1205.4L660.7,1198.5L656.3,1191.6L651.9,1184.7L647.5,1177.8L643.2,1170.9L638.8,1164L634.4,1157.1L630,1150.1L625.7,1143.2L621.3,1136.3L617,1129.4L612.6,1122.5L608.3,1115.6L603.9,1108.6L599.6,1101.7L595.2,1094.8L590.9,1087.9L586.6,1080.9L582.2,1074L577.9,1067.1L573.6,1060.1L569.2,1053.2L564.9,1046.2L560.6,1039.3L556.3,1032.3L552,1025.4L547.7,1018.5L543.4,1011.5L539.1,1004.6L534.8,997.6L530.5,990.6L526.2,983.7L521.9,976.7L517.6,969.8L513.3,962.8L509,955.8L504.7,948.9L500.5,941.9L496.2,934.9L491.9,928L487.7,921L483.4,914L479.1,907L474.9,900.1L470.6,893.1L466.4,886.1L462.1,879.1L457.9,872.1L453.6,865.1L449.4,858.1L445.2,851.1L440.9,844.1L436.7,837.2L432.5,830.2L428.3,823.2L424,816.2L419.8,809.1L415.6,802.1L411.4,795.1L407.2,788.1L403,781.1L398.8,774.1L394.6,767.1L390.4,760.1L386.2,753.1L382,746L377.8,739L373.6,732L369.5,725L365.3,717.9L361.1,710.9L356.9,703.9L352.8,696.8L348.6,689.8L344.4,682.8L340.3,675.7L336.1,668.7L332,661.7L327.8,654.6L323.7,647.6L319.5,640.5L315.4,633.5L311.2,626.4L307.1,619.4L303,612.3L298.8,605.2L294.7,598.2L290.6,591.1L286.5,584.1L282.4,577L278.2,569.9L274.1,562.9L270,555.8L265.9,548.7L261.8,541.7L257.7,534.6L253.6,527.5L249.5,520.4L245.4,513.3L241.4,506.3L237.3,499.2L233.2,492.1L229.1,485L225,477.9L221,470.8L216.9,463.7L212.8,456.6L208.8,449.5L204.7,442.4L200.7,435.3L196.6,428.2"/>
<path d="M750,1245.1L749.7,1237L749.3,1228.9L748.9,1220.7L748.6,1212.6L748.2,1204.5L747.8,1196.3L747.5,1188.2L747.1,1180.1L746.8,1172L746.4,1163.8L746,1155.7L745.7,1147.6L745.3,1139.4L744.9,1131.3L744.6,1123.2L744.2,1115L743.9,1106.9L743.5,1098.8L743.1,1090.7L742.8,1082.5L742.4,1074.4L742.1,1066.3L741.7,1058.1L741.4,1050L741,1041.9L740.6,1033.7L740.3,1025.6L739.9,1017.5L739.6,1009.4L739.2,1001.2L738.9,993.1L738.5,985L738.2,976.8L737.8,968.7L737.4,960.6L737.1,952.4L736.7,944.3L736.4,936.2L736,928.1L735.7,919.9L735.3,911.8L735,903.7L734.6,895.5L734.3,887.4L733.9,879.3L733.6,871.1L733.2,863L732.9,854.9L732.5,846.8L732.2,838.6L731.8,830.5L731.5,822.4L731.1,814.2L730.8,806.1L730.4,798L730.1,789.8L729.7,781.7L729.4,773.6L729,765.5L728.7,757.3L728.3,749.2L728,741.1L727.6,732.9L727.3,724.8L727,716.7L726.6,708.5L726.3,700.4L725.9,692.3L725.6,684.1L725.2,676L724.9,667.9L724.5,659.8L724.2,651.6L723.9,643.5L723.5,635.4L723.2,627.2L722.8,619.1L722.5,611L722.2,602.8L721.8,594.7L721.5,586.6L721.1,578.5L720.8,570.3L720.4,562.2L720.1,554.1L719.8,545.9L719.4,537.8L719.1,529.7L718.8,521.5L718.4,513.4L718.1,505.3L717.7,497.1L717.4,489L717.1,480.9L716.7,472.8L716.4,464.6L716.1,456.5L715.7,448.4L715.4,440.2L715,432.1L714.7,424L714.4,415.8L714,407.7L713.7,399.6L713.4,391.4L713,383.3L712.7,375.2L712.4,367.1L712,358.9L711.7,350.8L711.4,342.7L711,334.5L710.7,326.4L710.4,318.3L710.1,310.1L709.7,302L709.4,293.9L709.1,285.7L708.7,277.6L708.4,269.5L708.1,261.3L707.7,253.2L707.4,245.1L707.1,237L706.8,228.8L706.4,220.7L706.1,212.6L705.8,204.4L705.5,196.3L705.1,188.2L704.8,180L704.5,171.9L704.2,163.8L703.8,155.6L703.5,147.5L703.2,139.4L702.9,131.2L702.5,123.1L702.2,115L701.9,106.9L701.6,98.7L701.2,90.6"/>
<path d="M804.7,1248.9L808.5,1241.6L812.3,1234.4L816,1227.2L819.8,1219.9L823.6,1212.7L827.3,1205.4L831.1,1198.2L834.9,1190.9L838.6,1183.7L842.4,1176.4L846.1,1169.2L849.9,1161.9L853.6,1154.6L857.3,1147.4L861.1,1140.1L864.8,1132.9L868.5,1125.6L872.3,1118.3L876,1111.1L879.7,1103.8L883.4,1096.5L887.2,1089.3L890.9,1082L894.6,1074.7L898.3,1067.5L902,1060.2L905.7,1052.9L909.4,1045.6L913.1,1038.3L916.8,1031.1L920.5,1023.8L924.2,1016.5L927.9,1009.2L931.6,1001.9L935.2,994.6L938.9,987.3L942.6,980.1L946.3,972.8L949.9,965.5L953.6,958.2L957.3,950.9L960.9,943.6L964.6,936.3L968.3,929L971.9,921.7L975.6,914.4L979.2,907.1L982.9,899.8L986.5,892.5L990.2,885.2L993.8,877.8L997.4,870.5L1001.1,863.2L1004.7,855.9L1008.3,848.6L1011.9,841.3L1015.6,834L1019.2,826.6L1022.8,819.3L1026.4,812L1030,804.7L1033.6,797.4L1037.2,790L1040.9,782.7L1044.5,775.4L1048,768L1051.6,760.7L1055.2,753.4L1058.8,746L1062.4,738.7L1066,731.4L1069.6,724L1073.2,716.7L1076.7,709.4L1080.3,702L1083.9,694.7L1087.5,687.3L1091,680L1094.6,672.6L1098.1,665.3L1101.7,657.9L1105.3,650.6L1108.8,643.2L1112.4,635.9L1115.9,628.5L1119.4,621.2L1123,613.8L1126.5,606.5L1130.1,599.1L1133.6,591.7L1137.1,584.4L1140.6,577L1144.2,569.6L1147.7,562.3L1151.2,554.9L1154.7,547.5L1158.2,540.2L1161.8,532.8L1165.3,525.4L1168.8,518L1172.3,510.7L1175.8,503.3L1179.3,495.9L1182.8,488.5L1186.2,481.1L1189.7,473.8L1193.2,466.4L1196.7,459L1200.2,451.6L1203.7,444.2L1207.1,436.8L1210.6,429.4L1214.1,422L1217.5,414.6L1221,407.3L1224.5,399.9L1227.9,392.5L1231.4,385.1L1234.8,377.7L1238.3,370.3L1241.7,362.9L1245.2,355.5L1248.6,348L1252.1,340.6L1255.5,333.2L1258.9,325.8L1262.4,318.4L1265.8,311L1269.2,303.6L1272.6,296.2L1276,288.8L1279.5,281.3L1282.9,273.9L1286.3,266.5L1289.7,259.1L1293.1,251.7L1296.5,244.2L1299.9,236.8L1303.3,229.4L1306.7,221.9L1310.1,214.5L1313.5,207.1"/>
<path d="M901.9,1250.5L908.8,1246.1L915.7,1241.6L922.6,1237.1L929.5,1232.6L936.4,1228.1L943.3,1223.6L950.2,1219.1L957,1214.6L963.9,1210L970.8,1205.5L977.7,1201L984.6,1196.5L991.4,1191.9L998.3,1187.4L1005.1,1182.8L1012,1178.3L1018.9,1173.7L1025.7,1169.2L1032.6,1164.6L1039.4,1160L1046.3,1155.4L1053.1,1150.9L1059.9,1146.3L1066.8,1141.7L1073.6,1137.1L1080.4,1132.5L1087.3,1127.9L1094.1,1123.3L1100.9,1118.7L1107.7,1114.1L1114.5,1109.4L1121.3,1104.8L1128.1,1100.2L1134.9,1095.5L1141.7,1090.9L1148.5,1086.3L1155.3,1081.6L1162.1,1077L1168.9,1072.3L1175.7,1067.6L1182.5,1063L1189.2,1058.3L1196,1053.6L1202.8,1048.9L1209.6,1044.2L1216.3,1039.5L1223.1,1034.9L1229.8,1030.2L1236.6,1025.4L1243.4,1020.7L1250.1,1016L1256.8,1011.3L1263.6,1006.6L1270.3,1001.8L1277.1,997.1L1283.8,992.4L1290.5,987.6L1297.3,982.9L1304,978.1L1310.7,973.4"/>
</g>
<rect x="750.2" y="787" width="37" height="20" fill="#fff"/>
<text transform="translate(756,803.9) scale(0.9609,1)" font-size="21.68" fill="#000">45</text>
<text transform="translate(758.4,874) scale(0.9609,1)" font-size="21.68" fill="#000">30</text>
<text transform="translate(760.4,1015) scale(0.9609,1)" font-size="21.68" fill="#000">15</text>
<text transform="translate(609.28,647.4) scale(0.9609,1)" font-size="39.03" fill="#000">28</text>
<text transform="translate(718.23,655.5) scale(0.9609,1)" font-size="39.03" fill="#000">30</text>
<text transform="translate(780.69,578.9) scale(0.9609,1)" font-size="39.03" fill="#000">7</text>
<text transform="translate(828.65,679.7) scale(0.9609,1)" font-size="39.03" fill="#000">8</text>
<text transform="translate(649.15,779.6) scale(0.9609,1)" font-size="39.03" fill="#000">13</text>
<text transform="translate(882.73,747.7) scale(0.9609,1)" font-size="39.03" fill="#000">27</text>
</g>
<rect x="233.5" y="127.5" width="1042" height="1084" fill="none" stroke="#262626" stroke-width="1" shape-rendering="crispEdges"/>
<text transform="translate(755.6,112.2) scale(0.9609,1)" font-size="43.37" fill="#000" text-anchor="middle" font-weight="bold">20190105 08:00 UT</text>
<path d="M1400,189.5h13M1406.5,183v13M1402,185l9,9M1402,194l9,-9M1402,192.5h13M1408.5,186v13M1404,188l9,9M1404,197l9,-9M1404,191.5h13M1410.5,185v13M1406,187l9,9M1406,196l9,-9M1406,190.5h13M1412.5,184v13M1408,186l9,9M1408,195l9,-9M1407,191.5h13M1413.5,185v13M1409,187l9,9M1409,196l9,-9M1409,191.5h13M1415.5,185v13M1411,187l9,9M1411,196l9,-9M1411,191.5h13M1417.5,185v13M1413,187l9,9M1413,196l9,-9M1413,192.5h13M1419.5,186v13M1415,188l9,9M1415,197l9,-9M1415,190.5h13M1421.5,184v13M1417,186l9,9M1417,195l9,-9M1416,190.5h13M1422.5,184v13M1418,186l9,9M1418,195l9,-9M1418,192.5h13M1424.5,186v13M1420,188l9,9M1420,197l9,-9M1420,191.5h13M1426.5,185v13M1422,187l9,9M1422,196l9,-9M1422,192.5h13M1428.5,186v13M1424,188l9,9M1424,197l9,-9M1423,190.5h13M1429.5,184v13M1425,186l9,9M1425,195l9,-9M1425,191.5h13M1431.5,185v13M1427,187l9,9M1427,196l9,-9M1427,192.5h13M1433.5,186v13M1429,188l9,9M1429,197l9,-9M1429,191.5h13M1435.5,185v13M1431,187l9,9M1431,196l9,-9M1431,193.5h13M1437.5,187v13M1433,189l9,9M1433,198l9,-9M1432,193.5h13M1438.5,187v13M1434,189l9,9M1434,198l9,-9M1434,190.5h13M1440.5,184v13M1436,186l9,9M1436,195l9,-9M1436,190.5h13M1442.5,184v13M1438,186l9,9M1438,195l9,-9M1438,192.5h13M1444.5,186v13M1440,188l9,9M1440,197l9,-9M1439,193.5h13M1445.5,187v13M1441,189l9,9M1441,198l9,-9M1441,191.5h13M1447.5,185v13M1443,187l9,9M1443,196l9,-9M1443,191.5h13M1449.5,185v13M1445,187l9,9M1445,196l9,-9M1445,191.5h13M1451.5,185v13M1447,187l9,9M1447,196l9,-9M1447,190.5h13M1453.5,184v13M1449,186l9,9M1449,195l9,-9M1448,191.5h13M1454.5,185v13M1450,187l9,9M1450,196l9,-9M1450,191.5h13M1456.5,185v13M1452,187l9,9M1452,196l9,-9M1452,192.5h13M1458.5,186v13M1454,188l9,9M1454,197l9,-9M1454,191.5h13M1460.5,185v13M1456,187l9,9M1456,196l9,-9M1455,191.5h13M1461.5,185v13M1457,187l9,9M1457,196l9,-9M1457,191.5h13M1463.5,185v13M1459,187l9,9M1459,196l9,-9M1459,192.5h13M1465.5,186v13M1461,188l9,9M1461,197l9,-9M1461,191.5h13M1467.5,185v13M1463,187l9,9M1463,196l9,-9M1462,190.5h13M1468.5,184v13M1464,186l9,9M1464,195l9,-9M1464,193.5h13M1470.5,187v13M1466,189l9,9M1466,198l9,-9M1466,192.5h13M1472.5,186v13M1468,188l9,9M1468,197l9,-9M1468,192.5h13M1474.5,186v13M1470,188l9,9M1470,197l9,-9M1470,191.5h13M1476.5,185v13M1472,187l9,9M1472,196l9,-9M1471,193.5h13M1477.5,187v13M1473,189l9,9M1473,198l9,-9M1473,193.5h13M1479.5,187v13M1475,189l9,9M1475,198l9,-9M1475,190.5h13M1481.5,184v13M1477,186l9,9M1477,195l9,-9M1477,191.5h13M1483.5,185v13M1479,187l9,9M1479,196l9,-9M1478,192.5h13M1484.5,186v13M1480,188l9,9M1480,197l9,-9M1480,192.5h13M1486.5,186v13M1482,188l9,9M1482,197l9,-9M1482,193.5h13M1488.5,187v13M1484,189l9,9M1484,198l9,-9M1484,191.5h13M1490.5,185v13M1486,187l9,9M1486,196l9,-9M1486,192.5h13M1492.5,186v13M1488,188l9,9M1488,197l9,-9M1487,192.5h13M1493.5,186v13M1489,188l9,9M1489,197l9,-9M1489,191.5h13M1495.5,185v13M1491,187l9,9M1491,196l9,-9M1491,192.5h13M1497.5,186v13M1493,188l9,9M1493,197l9,-9M1493,192.5h13M1499.5,186v13M1495,188l9,9M1495,197l9,-9M1494,192.5h13M1500.5,186v13M1496,188l9,9M1496,197l9,-9M1496,191.5h13M1502.5,185v13M1498,187l9,9M1498,196l9,-9M1498,191.5h13M1504.5,185v13M1500,187l9,9M1500,196l9,-9M1500,190.5h13M1506.5,184v13M1502,186l9,9M1502,195l9,-9M1502,190.5h13M1508.5,184v13M1504,186l9,9M1504,195l9,-9M1503,192.5h13M1509.5,186v13M1505,188l9,9M1505,197l9,-9M1505,191.5h13M1511.5,185v13M1507,187l9,9M1507,196l9,-9M1507,190.5h13M1513.5,184v13M1509,186l9,9M1509,195l9,-9M1509,191.5h13M1515.5,185v13M1511,187l9,9M1511,196l9,-9M1510,191.5h13M1516.5,185v13M1512,187l9,9M1512,196l9,-9M1512,191.5h13M1518.5,185v13M1514,187l9,9M1514,196l9,-9" fill="none" stroke="#0000ff" stroke-width="1" shape-rendering="crispEdges"/>
<g shape-rendering="crispEdges" fill="none" stroke-width="1">
<path d="M1354,221.5H1568M1389.5,221.5v-6.5M1425.5,221.5v-6.5M1461.5,221.5v-6.5M1496.5,221.5v-6.5M1532.5,221.5v-6.5" stroke="#262626"/>
<path d="M1354.5,91V222M1354,221.5h7M1354.5,195.5h6.5M1354.5,143.5h6.5M1354.5,91.5h6.5" stroke="#0000ff"/>
<path d="M1567.5,91V222M1568,221.5h-3M1567.5,195.5h-2.5M1567.5,169.5h-2.5M1567.5,143.5h-2.5M1567.5,117.5h-2.5M1567.5,91.5h-2.5" stroke="#ff0000"/>
</g>
<text transform="translate(1346,230.25) scale(0.9609,1)" font-size="21.68" fill="#0000ff" text-anchor="end">0</text>
<text transform="translate(1346,204.03) scale(0.9609,1)" font-size="21.68" fill="#0000ff" text-anchor="end">0.1</text>
<text transform="translate(1346,151.59) scale(0.9609,1)" font-size="21.68" fill="#0000ff" text-anchor="end">0.3</text>
<text transform="translate(1346,99.15) scale(0.9609,1)" font-size="21.68" fill="#0000ff" text-anchor="end">0.5</text>
<text transform="translate(1576,230.25) scale(0.9609,1)" font-size="21.68" fill="#ff0000">0</text>
<text transform="translate(1576,204.03) scale(0.9609,1)" font-size="21.68" fill="#ff0000">0.2</text>
<text transform="translate(1576,177.81) scale(0.9609,1)" font-size="21.68" fill="#ff0000">0.4</text>
<text transform="translate(1576,151.59) scale(0.9609,1)" font-size="21.68" fill="#ff0000">0.6</text>
<text transform="translate(1576,125.37) scale(0.9609,1)" font-size="21.68" fill="#ff0000">0.8</text>
<text transform="translate(1576,99.15) scale(0.9609,1)" font-size="21.68" fill="#ff0000">1</text>
<text transform="translate(1353.7,251.2) scale(0.9609,1)" font-size="21.68" fill="#262626" text-anchor="middle">-60</text>
<text transform="translate(1389.2,251.2) scale(0.9609,1)" font-size="21.68" fill="#262626" text-anchor="middle">-40</text>
<text transform="translate(1424.7,251.2) scale(0.9609,1)" font-size="21.68" fill="#262626" text-anchor="middle">-20</text>
<text transform="translate(1455.2,251.2) scale(0.9609,1)" font-size="21.68" fill="#262626" text-anchor="middle">0</text>
<text transform="translate(1493.6,251.2) scale(0.9609,1)" font-size="21.68" fill="#262626" text-anchor="middle">20</text>
<text transform="translate(1529.1,251.2) scale(0.9609,1)" font-size="21.68" fill="#262626" text-anchor="middle">40</text>
<text transform="translate(1564.6,251.2) scale(0.9609,1)" font-size="21.68" fill="#262626" text-anchor="middle">60</text>
<text transform="translate(1461.5,78) scale(0.9609,1)" font-size="39.03" fill="#000" text-anchor="middle" font-weight="bold">PRN7</text>
<text transform="translate(1287.3,175) rotate(-90) scale(0.9609,1)" font-size="30.36" fill="#0000ff" font-style="italic">σ</text>
<text transform="translate(1304,156.9) rotate(-90) skewX(-14) scale(1.15,1)" font-family='"DejaVu Sans Light","DejaVu Sans",sans-serif' font-weight="200" font-size="25.5" fill="#0000ff">ϕ</text>
<text transform="translate(1641.6,156.8) rotate(-90) scale(0.9609,1)" font-size="30.49" fill="#ff0000" text-anchor="middle">STEC</text>
<path d="M1400,459.5h13M1406.5,453v13M1402,455l9,9M1402,464l9,-9M1402,459.5h13M1408.5,453v13M1404,455l9,9M1404,464l9,-9M1404,456.5h13M1410.5,450v13M1406,452l9,9M1406,461l9,-9M1406,457.5h13M1412.5,451v13M1408,453l9,9M1408,462l9,-9M1408,459.5h13M1414.5,453v13M1410,455l9,9M1410,464l9,-9M1409,459.5h13M1415.5,453v13M1411,455l9,9M1411,464l9,-9M1411,458.5h13M1417.5,452v13M1413,454l9,9M1413,463l9,-9M1413,457.5h13M1419.5,451v13M1415,453l9,9M1415,462l9,-9M1415,458.5h13M1421.5,452v13M1417,454l9,9M1417,463l9,-9M1416,458.5h13M1422.5,452v13M1418,454l9,9M1418,463l9,-9M1418,458.5h13M1424.5,452v13M1420,454l9,9M1420,463l9,-9M1420,457.5h13M1426.5,451v13M1422,453l9,9M1422,462l9,-9M1422,458.5h13M1428.5,452v13M1424,454l9,9M1424,463l9,-9M1424,457.5h13M1430.5,451v13M1426,453l9,9M1426,462l9,-9M1425,458.5h13M1431.5,452v13M1427,454l9,9M1427,463l9,-9M1427,459.5h13M1433.5,453v13M1429,455l9,9M1429,464l9,-9M1429,459.5h13M1435.5,453v13M1431,455l9,9M1431,464l9,-9M1431,458.5h13M1437.5,452v13M1433,454l9,9M1433,463l9,-9M1432,458.5h13M1438.5,452v13M1434,454l9,9M1434,463l9,-9M1434,457.5h13M1440.5,451v13M1436,453l9,9M1436,462l9,-9M1436,456.5h13M1442.5,450v13M1438,452l9,9M1438,461l9,-9M1438,456.5h13M1444.5,450v13M1440,452l9,9M1440,461l9,-9M1440,458.5h13M1446.5,452v13M1442,454l9,9M1442,463l9,-9M1441,457.5h13M1447.5,451v13M1443,453l9,9M1443,462l9,-9M1443,457.5h13M1449.5,451v13M1445,453l9,9M1445,462l9,-9M1445,459.5h13M1451.5,453v13M1447,455l9,9M1447,464l9,-9M1447,458.5h13M1453.5,452v13M1449,454l9,9M1449,463l9,-9M1449,458.5h13M1455.5,452v13M1451,454l9,9M1451,463l9,-9M1450,457.5h13M1456.5,451v13M1452,453l9,9M1452,462l9,-9M1452,456.5h13M1458.5,450v13M1454,452l9,9M1454,461l9,-9M1454,457.5h13M1460.5,451v13M1456,453l9,9M1456,462l9,-9M1456,457.5h13M1462.5,451v13M1458,453l9,9M1458,462l9,-9M1457,458.5h13M1463.5,452v13M1459,454l9,9M1459,463l9,-9M1459,459.5h13M1465.5,453v13M1461,455l9,9M1461,464l9,-9M1461,458.5h13M1467.5,452v13M1463,454l9,9M1463,463l9,-9M1463,457.5h13M1469.5,451v13M1465,453l9,9M1465,462l9,-9M1465,459.5h13M1471.5,453v13M1467,455l9,9M1467,464l9,-9M1466,459.5h13M1472.5,453v13M1468,455l9,9M1468,464l9,-9M1468,459.5h13M1474.5,453v13M1470,455l9,9M1470,464l9,-9M1470,459.5h13M1476.5,453v13M1472,455l9,9M1472,464l9,-9M1472,459.5h13M1478.5,453v13M1474,455l9,9M1474,464l9,-9M1474,459.5h13M1480.5,453v13M1476,455l9,9M1476,464l9,-9M1475,457.5h13M1481.5,451v13M1477,453l9,9M1477,462l9,-9M1477,459.5h13M1483.5,453v13M1479,455l9,9M1479,464l9,-9M1479,459.5h13M1485.5,453v13M1481,455l9,9M1481,464l9,-9M1481,457.5h13M1487.5,451v13M1483,453l9,9M1483,462l9,-9M1482,459.5h13M1488.5,453v13M1484,455l9,9M1484,464l9,-9M1484,458.5h13M1490.5,452v13M1486,454l9,9M1486,463l9,-9M1486,458.5h13M1492.5,452v13M1488,454l9,9M1488,463l9,-9M1488,458.5h13M1494.5,452v13M1490,454l9,9M1490,463l9,-9M1490,458.5h13M1496.5,452v13M1492,454l9,9M1492,463l9,-9M1491,459.5h13M1497.5,453v13M1493,455l9,9M1493,464l9,-9M1493,458.5h13M1499.5,452v13M1495,454l9,9M1495,463l9,-9M1495,459.5h13M1501.5,453v13M1497,455l9,9M1497,464l9,-9M1497,457.5h13M1503.5,451v13M1499,453l9,9M1499,462l9,-9M1499,459.5h13M1505.5,453v13M1501,455l9,9M1501,464l9,-9M1500,459.5h13M1506.5,453v13M1502,455l9,9M1502,464l9,-9M1502,458.5h13M1508.5,452v13M1504,454l9,9M1504,463l9,-9M1504,458.5h13M1510.5,452v13M1506,454l9,9M1506,463l9,-9M1506,459.5h13M1512.5,453v13M1508,455l9,9M1508,464l9,-9M1507,458.5h13M1513.5,452v13M1509,454l9,9M1509,463l9,-9M1509,458.5h13M1515.5,452v13M1511,454l9,9M1511,463l9,-9M1511,457.5h13M1517.5,451v13M1513,453l9,9M1513,462l9,-9M1513,457.5h13M1519.5,451v13M1515,453l9,9M1515,462l9,-9M1515,458.5h13M1521.5,452v13M1517,454l9,9M1517,463l9,-9M1516,457.5h13M1522.5,451v13M1518,453l9,9M1518,462l9,-9M1518,459.5h13M1524.5,453v13M1520,455l9,9M1520,464l9,-9M1520,457.5h13M1526.5,451v13M1522,453l9,9M1522,462l9,-9M1522,459.5h13M1528.5,453v13M1524,455l9,9M1524,464l9,-9M1524,457.5h13M1530.5,451v13M1526,453l9,9M1526,462l9,-9M1525,459.5h13M1531.5,453v13M1527,455l9,9M1527,464l9,-9M1527,458.5h13M1533.5,452v13M1529,454l9,9M1529,463l9,-9M1529,458.5h13M1535.5,452v13M1531,454l9,9M1531,463l9,-9M1531,458.5h13M1537.5,452v13M1533,454l9,9M1533,463l9,-9M1532,458.5h13M1538.5,452v13M1534,454l9,9M1534,463l9,-9M1534,458.5h13M1540.5,452v13M1536,454l9,9M1536,463l9,-9M1536,457.5h13M1542.5,451v13M1538,453l9,9M1538,462l9,-9M1538,457.5h13M1544.5,451v13M1540,453l9,9M1540,462l9,-9M1540,458.5h13M1546.5,452v13M1542,454l9,9M1542,463l9,-9M1541,459.5h13M1547.5,453v13M1543,455l9,9M1543,464l9,-9M1543,458.5h13M1549.5,452v13M1545,454l9,9M1545,463l9,-9M1545,456.5h13M1551.5,450v13M1547,452l9,9M1547,461l9,-9M1547,458.5h13M1553.5,452v13M1549,454l9,9M1549,463l9,-9M1549,457.5h13M1555.5,451v13M1551,453l9,9M1551,462l9,-9M1550,457.5h13M1556.5,451v13M1552,453l9,9M1552,462l9,-9M1552,455.5h13M1558.5,449v13M1554,451l9,9M1554,460l9,-9M1554,456.5h13M1560.5,450v13M1556,452l9,9M1556,461l9,-9M1556,454.5h13M1562.5,448v13M1558,450l9,9M1558,459l9,-9M1557,456.5h13M1563.5,450v13M1559,452l9,9M1559,461l9,-9M1559,454.5h13M1565.5,448v13M1561,450l9,9M1561,459l9,-9M1561,454.5h13M1567.5,448v13M1563,450l9,9M1563,459l9,-9" fill="none" stroke="#0000ff" stroke-width="1" shape-rendering="crispEdges"/>
<g shape-rendering="crispEdges" fill="none" stroke-width="1">
<path d="M1354,491.5H1568M1389.5,491.5v-6.5M1425.5,491.5v-6.5M1461.5,491.5v-6.5M1496.5,491.5v-6.5M1532.5,491.5v-6.5" stroke="#262626"/>
<path d="M1354.5,360V492M1354,491.5h7M1354.5,464.5h6.5M1354.5,412.5h6.5M1354.5,360.5h6.5" stroke="#0000ff"/>
<path d="M1567.5,360V492M1568,491.5h-3M1567.5,464.5h-2.5M1567.5,438.5h-2.5M1567.5,412.5h-2.5M1567.5,386.5h-2.5M1567.5,360.5h-2.5" stroke="#ff0000"/>
</g>
<text transform="translate(1346,499.25) scale(0.9609,1)" font-size="21.68" fill="#0000ff" text-anchor="end">0</text>
<text transform="translate(1346,473.03) scale(0.9609,1)" font-size="21.68" fill="#0000ff" text-anchor="end">0.1</text>
<text transform="translate(1346,420.59) scale(0.9609,1)" font-size="21.68" fill="#0000ff" text-anchor="end">0.3</text>
<text transform="translate(1346,368.15) scale(0.9609,1)" font-size="21.68" fill="#0000ff" text-anchor="end">0.5</text>
<text transform="translate(1576,499.25) scale(0.9609,1)" font-size="21.68" fill="#ff0000">0</text>
<text transform="translate(1576,473.03) scale(0.9609,1)" font-size="21.68" fill="#ff0000">0.2</text>
<text transform="translate(1576,446.81) scale(0.9609,1)" font-size="21.68" fill="#ff0000">0.4</text>
<text transform="translate(1576,420.59) scale(0.9609,1)" font-size="21.68" fill="#ff0000">0.6</text>
<text transform="translate(1576,394.37) scale(0.9609,1)" font-size="21.68" fill="#ff0000">0.8</text>
<text transform="translate(1576,368.15) scale(0.9609,1)" font-size="21.68" fill="#ff0000">1</text>
<text transform="translate(1353.7,521.2) scale(0.9609,1)" font-size="21.68" fill="#262626" text-anchor="middle">-60</text>
<text transform="translate(1389.2,521.2) scale(0.9609,1)" font-size="21.68" fill="#262626" text-anchor="middle">-40</text>
<text transform="translate(1424.7,521.2) scale(0.9609,1)" font-size="21.68" fill="#262626" text-anchor="middle">-20</text>
<text transform="translate(1455.2,521.2) scale(0.9609,1)" font-size="21.68" fill="#262626" text-anchor="middle">0</text>
<text transform="translate(1493.6,521.2) scale(0.9609,1)" font-size="21.68" fill="#262626" text-anchor="middle">20</text>
<text transform="translate(1529.1,521.2) scale(0.9609,1)" font-size="21.68" fill="#262626" text-anchor="middle">40</text>
<text transform="translate(1564.6,521.2) scale(0.9609,1)" font-size="21.68" fill="#262626" text-anchor="middle">60</text>
<text transform="translate(1461.5,347) scale(0.9609,1)" font-size="39.03" fill="#000" text-anchor="middle" font-weight="bold">PRN8</text>
<text transform="translate(1287.3,444) rotate(-90) scale(0.9609,1)" font-size="30.36" fill="#0000ff" font-style="italic">σ</text>
<text transform="translate(1304,425.9) rotate(-90) skewX(-14) scale(1.15,1)" font-family='"DejaVu Sans Light","DejaVu Sans",sans-serif' font-weight="200" font-size="25.5" fill="#0000ff">ϕ</text>
<text transform="translate(1641.6,425.8) rotate(-90) scale(0.9609,1)" font-size="30.49" fill="#ff0000" text-anchor="middle">STEC</text>
<path d="M1400,688.5h13M1406.5,682v13M1402,684l9,9M1402,693l9,-9M1402,689.5h13M1408.5,683v13M1404,685l9,9M1404,694l9,-9M1404,690.5h13M1410.5,684v13M1406,686l9,9M1406,695l9,-9M1406,692.5h13M1412.5,686v13M1408,688l9,9M1408,697l9,-9M1408,693.5h13M1414.5,687v13M1410,689l9,9M1410,698l9,-9M1409,692.5h13M1415.5,686v13M1411,688l9,9M1411,697l9,-9M1411,691.5h13M1417.5,685v13M1413,687l9,9M1413,696l9,-9M1413,694.5h13M1419.5,688v13M1415,690l9,9M1415,699l9,-9M1415,692.5h13M1421.5,686v13M1417,688l9,9M1417,697l9,-9M1416,692.5h13M1422.5,686v13M1418,688l9,9M1418,697l9,-9M1418,694.5h13M1424.5,688v13M1420,690l9,9M1420,699l9,-9M1420,693.5h13M1426.5,687v13M1422,689l9,9M1422,698l9,-9M1422,694.5h13M1428.5,688v13M1424,690l9,9M1424,699l9,-9M1424,693.5h13M1430.5,687v13M1426,689l9,9M1426,698l9,-9M1425,693.5h13M1431.5,687v13M1427,689l9,9M1427,698l9,-9M1427,692.5h13M1433.5,686v13M1429,688l9,9M1429,697l9,-9M1429,693.5h13M1435.5,687v13M1431,689l9,9M1431,698l9,-9M1431,694.5h13M1437.5,688v13M1433,690l9,9M1433,699l9,-9M1432,693.5h13M1438.5,687v13M1434,689l9,9M1434,698l9,-9M1434,694.5h13M1440.5,688v13M1436,690l9,9M1436,699l9,-9M1436,693.5h13M1442.5,687v13M1438,689l9,9M1438,698l9,-9M1438,692.5h13M1444.5,686v13M1440,688l9,9M1440,697l9,-9M1440,694.5h13M1446.5,688v13M1442,690l9,9M1442,699l9,-9M1441,693.5h13M1447.5,687v13M1443,689l9,9M1443,698l9,-9M1443,692.5h13M1449.5,686v13M1445,688l9,9M1445,697l9,-9M1445,691.5h13M1451.5,685v13M1447,687l9,9M1447,696l9,-9M1447,694.5h13M1453.5,688v13M1449,690l9,9M1449,699l9,-9M1449,693.5h13M1455.5,687v13M1451,689l9,9M1451,698l9,-9M1450,694.5h13M1456.5,688v13M1452,690l9,9M1452,699l9,-9M1452,694.5h13M1458.5,688v13M1454,690l9,9M1454,699l9,-9M1454,694.5h13M1460.5,688v13M1456,690l9,9M1456,699l9,-9M1456,694.5h13M1462.5,688v13M1458,690l9,9M1458,699l9,-9M1457,693.5h13M1463.5,687v13M1459,689l9,9M1459,698l9,-9M1459,694.5h13M1465.5,688v13M1461,690l9,9M1461,699l9,-9M1461,693.5h13M1467.5,687v13M1463,689l9,9M1463,698l9,-9M1463,694.5h13M1469.5,688v13M1465,690l9,9M1465,699l9,-9M1465,694.5h13M1471.5,688v13M1467,690l9,9M1467,699l9,-9M1466,692.5h13M1472.5,686v13M1468,688l9,9M1468,697l9,-9M1468,692.5h13M1474.5,686v13M1470,688l9,9M1470,697l9,-9M1470,692.5h13M1476.5,686v13M1472,688l9,9M1472,697l9,-9M1472,694.5h13M1478.5,688v13M1474,690l9,9M1474,699l9,-9M1474,693.5h13M1480.5,687v13M1476,689l9,9M1476,698l9,-9M1475,693.5h13M1481.5,687v13M1477,689l9,9M1477,698l9,-9M1477,692.5h13M1483.5,686v13M1479,688l9,9M1479,697l9,-9M1479,693.5h13M1485.5,687v13M1481,689l9,9M1481,698l9,-9M1481,693.5h13M1487.5,687v13M1483,689l9,9M1483,698l9,-9M1482,692.5h13M1488.5,686v13M1484,688l9,9M1484,697l9,-9M1484,693.5h13M1490.5,687v13M1486,689l9,9M1486,698l9,-9M1486,693.5h13M1492.5,687v13M1488,689l9,9M1488,698l9,-9M1488,694.5h13M1494.5,688v13M1490,690l9,9M1490,699l9,-9M1490,693.5h13M1496.5,687v13M1492,689l9,9M1492,698l9,-9M1491,694.5h13M1497.5,688v13M1493,690l9,9M1493,699l9,-9M1493,694.5h13M1499.5,688v13M1495,690l9,9M1495,699l9,-9M1495,694.5h13M1501.5,688v13M1497,690l9,9M1497,699l9,-9M1497,693.5h13M1503.5,687v13M1499,689l9,9M1499,698l9,-9M1499,692.5h13M1505.5,686v13M1501,688l9,9M1501,697l9,-9M1500,694.5h13M1506.5,688v13M1502,690l9,9M1502,699l9,-9M1502,694.5h13M1508.5,688v13M1504,690l9,9M1504,699l9,-9M1504,694.5h13M1510.5,688v13M1506,690l9,9M1506,699l9,-9M1506,693.5h13M1512.5,687v13M1508,689l9,9M1508,698l9,-9M1507,694.5h13M1513.5,688v13M1509,690l9,9M1509,699l9,-9M1509,692.5h13M1515.5,686v13M1511,688l9,9M1511,697l9,-9M1511,694.5h13M1517.5,688v13M1513,690l9,9M1513,699l9,-9M1513,693.5h13M1519.5,687v13M1515,689l9,9M1515,698l9,-9M1515,692.5h13M1521.5,686v13M1517,688l9,9M1517,697l9,-9M1516,692.5h13M1522.5,686v13M1518,688l9,9M1518,697l9,-9M1518,694.5h13M1524.5,688v13M1520,690l9,9M1520,699l9,-9M1520,694.5h13M1526.5,688v13M1522,690l9,9M1522,699l9,-9M1522,692.5h13M1528.5,686v13M1524,688l9,9M1524,697l9,-9M1524,694.5h13M1530.5,688v13M1526,690l9,9M1526,699l9,-9M1525,693.5h13M1531.5,687v13M1527,689l9,9M1527,698l9,-9M1527,692.5h13M1533.5,686v13M1529,688l9,9M1529,697l9,-9M1529,692.5h13M1535.5,686v13M1531,688l9,9M1531,697l9,-9M1531,694.5h13M1537.5,688v13M1533,690l9,9M1533,699l9,-9M1532,694.5h13M1538.5,688v13M1534,690l9,9M1534,699l9,-9M1534,692.5h13M1540.5,686v13M1536,688l9,9M1536,697l9,-9M1536,693.5h13M1542.5,687v13M1538,689l9,9M1538,698l9,-9M1538,692.5h13M1544.5,686v13M1540,688l9,9M1540,697l9,-9M1540,694.5h13M1546.5,688v13M1542,690l9,9M1542,699l9,-9M1541,692.5h13M1547.5,686v13M1543,688l9,9M1543,697l9,-9M1543,694.5h13M1549.5,688v13M1545,690l9,9M1545,699l9,-9M1545,694.5h13M1551.5,688v13M1547,690l9,9M1547,699l9,-9M1547,693.5h13M1553.5,687v13M1549,689l9,9M1549,698l9,-9M1549,694.5h13M1555.5,688v13M1551,690l9,9M1551,699l9,-9M1550,692.5h13M1556.5,686v13M1552,688l9,9M1552,697l9,-9M1552,691.5h13M1558.5,685v13M1554,687l9,9M1554,696l9,-9M1554,692.5h13M1560.5,686v13M1556,688l9,9M1556,697l9,-9M1556,690.5h13M1562.5,684v13M1558,686l9,9M1558,695l9,-9M1557,690.5h13M1563.5,684v13M1559,686l9,9M1559,695l9,-9M1559,690.5h13M1565.5,684v13M1561,686l9,9M1561,695l9,-9M1561,691.5h13M1567.5,685v13M1563,687l9,9M1563,696l9,-9" fill="none" stroke="#0000ff" stroke-width="1" shape-rendering="crispEdges"/>
<g shape-rendering="crispEdges" fill="none" stroke-width="1">
<path d="M1354,723.5H1568M1389.5,723.5v-6.5M1425.5,723.5v-6.5M1461.5,723.5v-6.5M1496.5,723.5v-6.5M1532.5,723.5v-6.5" stroke="#262626"/>
<path d="M1354.5,593V724M1354,723.5h7M1354.5,697.5h6.5M1354.5,645.5h6.5M1354.5,593.5h6.5" stroke="#0000ff"/>
<path d="M1567.5,593V724M1568,723.5h-3M1567.5,697.5h-2.5M1567.5,671.5h-2.5M1567.5,645.5h-2.5M1567.5,619.5h-2.5M1567.5,593.5h-2.5" stroke="#ff0000"/>
</g>
<text transform="translate(1346,732.25) scale(0.9609,1)" font-size="21.68" fill="#0000ff" text-anchor="end">0</text>
<text transform="translate(1346,706.03) scale(0.9609,1)" font-size="21.68" fill="#0000ff" text-anchor="end">0.1</text>
<text transform="translate(1346,653.59) scale(0.9609,1)" font-size="21.68" fill="#0000ff" text-anchor="end">0.3</text>
<text transform="translate(1346,601.15) scale(0.9609,1)" font-size="21.68" fill="#0000ff" text-anchor="end">0.5</text>
<text transform="translate(1576,732.25) scale(0.9609,1)" font-size="21.68" fill="#ff0000">0</text>
<text transform="translate(1576,706.03) scale(0.9609,1)" font-size="21.68" fill="#ff0000">0.2</text>
<text transform="translate(1576,679.81) scale(0.9609,1)" font-size="21.68" fill="#ff0000">0.4</text>
<text transform="translate(1576,653.59) scale(0.9609,1)" font-size="21.68" fill="#ff0000">0.6</text>
<text transform="translate(1576,627.37) scale(0.9609,1)" font-size="21.68" fill="#ff0000">0.8</text>
<text transform="translate(1576,601.15) scale(0.9609,1)" font-size="21.68" fill="#ff0000">1</text>
<text transform="translate(1353.7,753.2) scale(0.9609,1)" font-size="21.68" fill="#262626" text-anchor="middle">-60</text>
<text transform="translate(1389.2,753.2) scale(0.9609,1)" font-size="21.68" fill="#262626" text-anchor="middle">-40</text>
<text transform="translate(1424.7,753.2) scale(0.9609,1)" font-size="21.68" fill="#262626" text-anchor="middle">-20</text>
<text transform="translate(1455.2,753.2) scale(0.9609,1)" font-size="21.68" fill="#262626" text-anchor="middle">0</text>
<text transform="translate(1493.6,753.2) scale(0.9609,1)" font-size="21.68" fill="#262626" text-anchor="middle">20</text>
<text transform="translate(1529.1,753.2) scale(0.9609,1)" font-size="21.68" fill="#262626" text-anchor="middle">40</text>
<text transform="translate(1564.6,753.2) scale(0.9609,1)" font-size="21.68" fill="#262626" text-anchor="middle">60</text>
<text transform="translate(1461.5,580) scale(0.9609,1)" font-size="39.03" fill="#000" text-anchor="middle" font-weight="bold">PRN13</text>
<text transform="translate(1287.3,677) rotate(-90) scale(0.9609,1)" font-size="30.36" fill="#0000ff" font-style="italic">σ</text>
<text transform="translate(1304,658.9) rotate(-90) skewX(-14) scale(1.15,1)" font-family='"DejaVu Sans Light","DejaVu Sans",sans-serif' font-weight="200" font-size="25.5" fill="#0000ff">ϕ</text>
<text transform="translate(1641.6,658.8) rotate(-90) scale(0.9609,1)" font-size="30.49" fill="#ff0000" text-anchor="middle">STEC</text>
<path d="M1400,924.5h13M1406.5,918v13M1402,920l9,9M1402,929l9,-9M1402,924.5h13M1408.5,918v13M1404,920l9,9M1404,929l9,-9M1404,925.5h13M1410.5,919v13M1406,921l9,9M1406,930l9,-9M1406,924.5h13M1412.5,918v13M1408,920l9,9M1408,929l9,-9M1407,924.5h13M1413.5,918v13M1409,920l9,9M1409,929l9,-9M1409,925.5h13M1415.5,919v13M1411,921l9,9M1411,930l9,-9M1411,926.5h13M1417.5,920v13M1413,922l9,9M1413,931l9,-9M1413,926.5h13M1419.5,920v13M1415,922l9,9M1415,931l9,-9M1415,926.5h13M1421.5,920v13M1417,922l9,9M1417,931l9,-9M1416,924.5h13M1422.5,918v13M1418,920l9,9M1418,929l9,-9M1418,925.5h13M1424.5,919v13M1420,921l9,9M1420,930l9,-9M1420,924.5h13M1426.5,918v13M1422,920l9,9M1422,929l9,-9M1422,924.5h13M1428.5,918v13M1424,920l9,9M1424,929l9,-9M1423,924.5h13M1429.5,918v13M1425,920l9,9M1425,929l9,-9M1425,924.5h13M1431.5,918v13M1427,920l9,9M1427,929l9,-9M1427,926.5h13M1433.5,920v13M1429,922l9,9M1429,931l9,-9M1429,926.5h13M1435.5,920v13M1431,922l9,9M1431,931l9,-9M1431,926.5h13M1437.5,920v13M1433,922l9,9M1433,931l9,-9M1432,926.5h13M1438.5,920v13M1434,922l9,9M1434,931l9,-9M1434,924.5h13M1440.5,918v13M1436,920l9,9M1436,929l9,-9M1436,925.5h13M1442.5,919v13M1438,921l9,9M1438,930l9,-9M1438,925.5h13M1444.5,919v13M1440,921l9,9M1440,930l9,-9M1439,926.5h13M1445.5,920v13M1441,922l9,9M1441,931l9,-9M1441,926.5h13M1447.5,920v13M1443,922l9,9M1443,931l9,-9M1443,926.5h13M1449.5,920v13M1445,922l9,9M1445,931l9,-9M1445,924.5h13M1451.5,918v13M1447,920l9,9M1447,929l9,-9M1447,925.5h13M1453.5,919v13M1449,921l9,9M1449,930l9,-9M1448,926.5h13M1454.5,920v13M1450,922l9,9M1450,931l9,-9M1450,925.5h13M1456.5,919v13M1452,921l9,9M1452,930l9,-9M1452,924.5h13M1458.5,918v13M1454,920l9,9M1454,929l9,-9M1454,925.5h13M1460.5,919v13M1456,921l9,9M1456,930l9,-9M1455,924.5h13M1461.5,918v13M1457,920l9,9M1457,929l9,-9M1457,926.5h13M1463.5,920v13M1459,922l9,9M1459,931l9,-9M1459,926.5h13M1465.5,920v13M1461,922l9,9M1461,931l9,-9M1461,925.5h13M1467.5,919v13M1463,921l9,9M1463,930l9,-9M1462,925.5h13M1468.5,919v13M1464,921l9,9M1464,930l9,-9M1464,926.5h13M1470.5,920v13M1466,922l9,9M1466,931l9,-9M1466,925.5h13M1472.5,919v13M1468,921l9,9M1468,930l9,-9M1468,926.5h13M1474.5,920v13M1470,922l9,9M1470,931l9,-9M1470,926.5h13M1476.5,920v13M1472,922l9,9M1472,931l9,-9M1471,925.5h13M1477.5,919v13M1473,921l9,9M1473,930l9,-9M1473,925.5h13M1479.5,919v13M1475,921l9,9M1475,930l9,-9M1475,925.5h13M1481.5,919v13M1477,921l9,9M1477,930l9,-9M1477,925.5h13M1483.5,919v13M1479,921l9,9M1479,930l9,-9M1478,924.5h13M1484.5,918v13M1480,920l9,9M1480,929l9,-9M1480,925.5h13M1486.5,919v13M1482,921l9,9M1482,930l9,-9M1482,926.5h13M1488.5,920v13M1484,922l9,9M1484,931l9,-9M1484,924.5h13M1490.5,918v13M1486,920l9,9M1486,929l9,-9M1486,924.5h13M1492.5,918v13M1488,920l9,9M1488,929l9,-9M1487,925.5h13M1493.5,919v13M1489,921l9,9M1489,930l9,-9M1489,924.5h13M1495.5,918v13M1491,920l9,9M1491,929l9,-9M1491,925.5h13M1497.5,919v13M1493,921l9,9M1493,930l9,-9M1493,925.5h13M1499.5,919v13M1495,921l9,9M1495,930l9,-9M1494,925.5h13M1500.5,919v13M1496,921l9,9M1496,930l9,-9M1496,926.5h13M1502.5,920v13M1498,922l9,9M1498,931l9,-9M1498,924.5h13M1504.5,918v13M1500,920l9,9M1500,929l9,-9M1500,925.5h13M1506.5,919v13M1502,921l9,9M1502,930l9,-9M1502,924.5h13M1508.5,918v13M1504,920l9,9M1504,929l9,-9M1503,925.5h13M1509.5,919v13M1505,921l9,9M1505,930l9,-9M1505,924.5h13M1511.5,918v13M1507,920l9,9M1507,929l9,-9M1507,924.5h13M1513.5,918v13M1509,920l9,9M1509,929l9,-9M1509,924.5h13M1515.5,918v13M1511,920l9,9M1511,929l9,-9M1510,922.5h13M1516.5,916v13M1512,918l9,9M1512,927l9,-9M1512,922.5h13M1518.5,916v13M1514,918l9,9M1514,927l9,-9M1514,922.5h13M1520.5,916v13M1516,918l9,9M1516,927l9,-9M1516,919.5h13M1522.5,913v13M1518,915l9,9M1518,924l9,-9M1518,918.5h13M1524.5,912v13M1520,914l9,9M1520,923l9,-9M1519,919.5h13M1525.5,913v13M1521,915l9,9M1521,924l9,-9" fill="none" stroke="#0000ff" stroke-width="1" shape-rendering="crispEdges"/>
<g shape-rendering="crispEdges" fill="none" stroke-width="1">
<path d="M1354,954.5H1568M1389.5,954.5v-6.5M1425.5,954.5v-6.5M1461.5,954.5v-6.5M1496.5,954.5v-6.5M1532.5,954.5v-6.5" stroke="#262626"/>
<path d="M1354.5,825V955M1354,954.5h7M1354.5,928.5h6.5M1354.5,876.5h6.5M1354.5,825.5h6.5" stroke="#0000ff"/>
<path d="M1567.5,825V955M1568,954.5h-3M1567.5,928.5h-2.5M1567.5,902.5h-2.5M1567.5,876.5h-2.5M1567.5,850.5h-2.5M1567.5,825.5h-2.5" stroke="#ff0000"/>
</g>
<text transform="translate(1346,963.75) scale(0.9609,1)" font-size="21.68" fill="#0000ff" text-anchor="end">0</text>
<text transform="translate(1346,937.63) scale(0.9609,1)" font-size="21.68" fill="#0000ff" text-anchor="end">0.1</text>
<text transform="translate(1346,885.39) scale(0.9609,1)" font-size="21.68" fill="#0000ff" text-anchor="end">0.3</text>
<text transform="translate(1346,833.15) scale(0.9609,1)" font-size="21.68" fill="#0000ff" text-anchor="end">0.5</text>
<text transform="translate(1576,963.75) scale(0.9609,1)" font-size="21.68" fill="#ff0000">0</text>
<text transform="translate(1576,937.63) scale(0.9609,1)" font-size="21.68" fill="#ff0000">0.2</text>
<text transform="translate(1576,911.51) scale(0.9609,1)" font-size="21.68" fill="#ff0000">0.4</text>
<text transform="translate(1576,885.39) scale(0.9609,1)" font-size="21.68" fill="#ff0000">0.6</text>
<text transform="translate(1576,859.27) scale(0.9609,1)" font-size="21.68" fill="#ff0000">0.8</text>
<text transform="translate(1576,833.15) scale(0.9609,1)" font-size="21.68" fill="#ff0000">1</text>
<text transform="translate(1353.7,984.2) scale(0.9609,1)" font-size="21.68" fill="#262626" text-anchor="middle">-60</text>
<text transform="translate(1389.2,984.2) scale(0.9609,1)" font-size="21.68" fill="#262626" text-anchor="middle">-40</text>
<text transform="translate(1424.7,984.2) scale(0.9609,1)" font-size="21.68" fill="#262626" text-anchor="middle">-20</text>
<text transform="translate(1455.2,984.2) scale(0.9609,1)" font-size="21.68" fill="#262626" text-anchor="middle">0</text>
<text transform="translate(1493.6,984.2) scale(0.9609,1)" font-size="21.68" fill="#262626" text-anchor="middle">20</text>
<text transform="translate(1529.1,984.2) scale(0.9609,1)" font-size="21.68" fill="#262626" text-anchor="middle">40</text>
<text transform="translate(1564.6,984.2) scale(0.9609,1)" font-size="21.68" fill="#262626" text-anchor="middle">60</text>
<text transform="translate(1461.5,812) scale(0.9609,1)" font-size="39.03" fill="#000" text-anchor="middle" font-weight="bold">PRN27</text>
<text transform="translate(1287.3,909) rotate(-90) scale(0.9609,1)" font-size="30.36" fill="#0000ff" font-style="italic">σ</text>
<text transform="translate(1304,890.9) rotate(-90) skewX(-14) scale(1.15,1)" font-family='"DejaVu Sans Light","DejaVu Sans",sans-serif' font-weight="200" font-size="25.5" fill="#0000ff">ϕ</text>
<text transform="translate(1641.6,890.8) rotate(-90) scale(0.9609,1)" font-size="30.49" fill="#ff0000" text-anchor="middle">STEC</text>
<path d="M1430,1158.5h13M1436.5,1152v13M1432,1154l9,9M1432,1163l9,-9M1431,1158.5h13M1437.5,1152v13M1433,1154l9,9M1433,1163l9,-9M1433,1158.5h13M1439.5,1152v13M1435,1154l9,9M1435,1163l9,-9M1435,1159.5h13M1441.5,1153v13M1437,1155l9,9M1437,1164l9,-9M1437,1158.5h13M1443.5,1152v13M1439,1154l9,9M1439,1163l9,-9M1439,1158.5h13M1445.5,1152v13M1441,1154l9,9M1441,1163l9,-9M1440,1156.5h13M1446.5,1150v13M1442,1152l9,9M1442,1161l9,-9M1442,1157.5h13M1448.5,1151v13M1444,1153l9,9M1444,1162l9,-9M1444,1159.5h13M1450.5,1153v13M1446,1155l9,9M1446,1164l9,-9M1446,1158.5h13M1452.5,1152v13M1448,1154l9,9M1448,1163l9,-9M1447,1158.5h13M1453.5,1152v13M1449,1154l9,9M1449,1163l9,-9M1449,1156.5h13M1455.5,1150v13M1451,1152l9,9M1451,1161l9,-9M1451,1157.5h13M1457.5,1151v13M1453,1153l9,9M1453,1162l9,-9M1453,1156.5h13M1459.5,1150v13M1455,1152l9,9M1455,1161l9,-9M1455,1157.5h13M1461.5,1151v13M1457,1153l9,9M1457,1162l9,-9M1456,1157.5h13M1462.5,1151v13M1458,1153l9,9M1458,1162l9,-9M1458,1156.5h13M1464.5,1150v13M1460,1152l9,9M1460,1161l9,-9M1460,1156.5h13M1466.5,1150v13M1462,1152l9,9M1462,1161l9,-9M1462,1157.5h13M1468.5,1151v13M1464,1153l9,9M1464,1162l9,-9M1463,1158.5h13M1469.5,1152v13M1465,1154l9,9M1465,1163l9,-9M1465,1158.5h13M1471.5,1152v13M1467,1154l9,9M1467,1163l9,-9M1467,1156.5h13M1473.5,1150v13M1469,1152l9,9M1469,1161l9,-9M1469,1158.5h13M1475.5,1152v13M1471,1154l9,9M1471,1163l9,-9M1470,1156.5h13M1476.5,1150v13M1472,1152l9,9M1472,1161l9,-9M1472,1158.5h13M1478.5,1152v13M1474,1154l9,9M1474,1163l9,-9M1474,1156.5h13M1480.5,1150v13M1476,1152l9,9M1476,1161l9,-9M1476,1156.5h13M1482.5,1150v13M1478,1152l9,9M1478,1161l9,-9M1478,1158.5h13M1484.5,1152v13M1480,1154l9,9M1480,1163l9,-9M1479,1156.5h13M1485.5,1150v13M1481,1152l9,9M1481,1161l9,-9M1481,1156.5h13M1487.5,1150v13M1483,1152l9,9M1483,1161l9,-9M1483,1159.5h13M1489.5,1153v13M1485,1155l9,9M1485,1164l9,-9M1485,1158.5h13M1491.5,1152v13M1487,1154l9,9M1487,1163l9,-9M1486,1157.5h13M1492.5,1151v13M1488,1153l9,9M1488,1162l9,-9M1488,1159.5h13M1494.5,1153v13M1490,1155l9,9M1490,1164l9,-9M1490,1157.5h13M1496.5,1151v13M1492,1153l9,9M1492,1162l9,-9M1492,1158.5h13M1498.5,1152v13M1494,1154l9,9M1494,1163l9,-9M1494,1156.5h13M1500.5,1150v13M1496,1152l9,9M1496,1161l9,-9M1495,1159.5h13M1501.5,1153v13M1497,1155l9,9M1497,1164l9,-9M1497,1158.5h13M1503.5,1152v13M1499,1154l9,9M1499,1163l9,-9M1499,1159.5h13M1505.5,1153v13M1501,1155l9,9M1501,1164l9,-9M1501,1158.5h13M1507.5,1152v13M1503,1154l9,9M1503,1163l9,-9M1502,1157.5h13M1508.5,1151v13M1504,1153l9,9M1504,1162l9,-9M1504,1157.5h13M1510.5,1151v13M1506,1153l9,9M1506,1162l9,-9M1506,1156.5h13M1512.5,1150v13M1508,1152l9,9M1508,1161l9,-9M1508,1156.5h13M1514.5,1150v13M1510,1152l9,9M1510,1161l9,-9M1510,1156.5h13M1516.5,1150v13M1512,1152l9,9M1512,1161l9,-9M1511,1157.5h13M1517.5,1151v13M1513,1153l9,9M1513,1162l9,-9M1513,1158.5h13M1519.5,1152v13M1515,1154l9,9M1515,1163l9,-9M1515,1156.5h13M1521.5,1150v13M1517,1152l9,9M1517,1161l9,-9M1517,1158.5h13M1523.5,1152v13M1519,1154l9,9M1519,1163l9,-9M1518,1157.5h13M1524.5,1151v13M1520,1153l9,9M1520,1162l9,-9M1520,1157.5h13M1526.5,1151v13M1522,1153l9,9M1522,1162l9,-9M1522,1158.5h13M1528.5,1152v13M1524,1154l9,9M1524,1163l9,-9M1524,1157.5h13M1530.5,1151v13M1526,1153l9,9M1526,1162l9,-9M1526,1157.5h13M1532.5,1151v13M1528,1153l9,9M1528,1162l9,-9M1527,1157.5h13M1533.5,1151v13M1529,1153l9,9M1529,1162l9,-9M1529,1158.5h13M1535.5,1152v13M1531,1154l9,9M1531,1163l9,-9M1531,1156.5h13M1537.5,1150v13M1533,1152l9,9M1533,1161l9,-9M1533,1159.5h13M1539.5,1153v13M1535,1155l9,9M1535,1164l9,-9M1534,1156.5h13M1540.5,1150v13M1536,1152l9,9M1536,1161l9,-9M1536,1158.5h13M1542.5,1152v13M1538,1154l9,9M1538,1163l9,-9M1538,1158.5h13M1544.5,1152v13M1540,1154l9,9M1540,1163l9,-9M1540,1156.5h13M1546.5,1150v13M1542,1152l9,9M1542,1161l9,-9M1541,1158.5h13M1547.5,1152v13M1543,1154l9,9M1543,1163l9,-9M1543,1157.5h13M1549.5,1151v13M1545,1153l9,9M1545,1162l9,-9M1545,1157.5h13M1551.5,1151v13M1547,1153l9,9M1547,1162l9,-9M1547,1156.5h13M1553.5,1150v13M1549,1152l9,9M1549,1161l9,-9M1549,1156.5h13M1555.5,1150v13M1551,1152l9,9M1551,1161l9,-9M1550,1156.5h13M1556.5,1150v13M1552,1152l9,9M1552,1161l9,-9M1552,1159.5h13M1558.5,1153v13M1554,1155l9,9M1554,1164l9,-9M1554,1156.5h13M1560.5,1150v13M1556,1152l9,9M1556,1161l9,-9M1556,1158.5h13M1562.5,1152v13M1558,1154l9,9M1558,1163l9,-9M1557,1158.5h13M1563.5,1152v13M1559,1154l9,9M1559,1163l9,-9M1559,1159.5h13M1565.5,1153v13M1561,1155l9,9M1561,1164l9,-9M1561,1157.5h13M1567.5,1151v13M1563,1153l9,9M1563,1162l9,-9" fill="none" stroke="#0000ff" stroke-width="1" shape-rendering="crispEdges"/>
<g shape-rendering="crispEdges" fill="none" stroke-width="1">
<path d="M1354,1187.5H1568M1389.5,1187.5v-6.5M1425.5,1187.5v-6.5M1461.5,1187.5v-6.5M1496.5,1187.5v-6.5M1532.5,1187.5v-6.5" stroke="#262626"/>
<path d="M1354.5,1058V1188M1354,1187.5h7M1354.5,1161.5h6.5M1354.5,1109.5h6.5M1354.5,1058.5h6.5" stroke="#0000ff"/>
<path d="M1567.5,1058V1188M1568,1187.5h-3M1567.5,1161.5h-2.5M1567.5,1135.5h-2.5M1567.5,1109.5h-2.5M1567.5,1083.5h-2.5M1567.5,1058.5h-2.5" stroke="#ff0000"/>
</g>
<text transform="translate(1346,1196.75) scale(0.9609,1)" font-size="21.68" fill="#0000ff" text-anchor="end">0</text>
<text transform="translate(1346,1170.63) scale(0.9609,1)" font-size="21.68" fill="#0000ff" text-anchor="end">0.1</text>
<text transform="translate(1346,1118.39) scale(0.9609,1)" font-size="21.68" fill="#0000ff" text-anchor="end">0.3</text>
<text transform="translate(1346,1066.15) scale(0.9609,1)" font-size="21.68" fill="#0000ff" text-anchor="end">0.5</text>
<text transform="translate(1576,1196.75) scale(0.9609,1)" font-size="21.68" fill="#ff0000">0</text>
<text transform="translate(1576,1170.63) scale(0.9609,1)" font-size="21.68" fill="#ff0000">0.2</text>
<text transform="translate(1576,1144.51) scale(0.9609,1)" font-size="21.68" fill="#ff0000">0.4</text>
<text transform="translate(1576,1118.39) scale(0.9609,1)" font-size="21.68" fill="#ff0000">0.6</text>
<text transform="translate(1576,1092.27) scale(0.9609,1)" font-size="21.68" fill="#ff0000">0.8</text>
<text transform="translate(1576,1066.15) scale(0.9609,1)" font-size="21.68" fill="#ff0000">1</text>
<text transform="translate(1353.7,1217.2) scale(0.9609,1)" font-size="21.68" fill="#262626" text-anchor="middle">-60</text>
<text transform="translate(1389.2,1217.2) scale(0.9609,1)" font-size="21.68" fill="#262626" text-anchor="middle">-40</text>
<text transform="translate(1424.7,1217.2) scale(0.9609,1)" font-size="21.68" fill="#262626" text-anchor="middle">-20</text>
<text transform="translate(1455.2,1217.2) scale(0.9609,1)" font-size="21.68" fill="#262626" text-anchor="middle">0</text>
<text transform="translate(1493.6,1217.2) scale(0.9609,1)" font-size="21.68" fill="#262626" text-anchor="middle">20</text>
<text transform="translate(1529.1,1217.2) scale(0.9609,1)" font-size="21.68" fill="#262626" text-anchor="middle">40</text>
<text transform="translate(1564.6,1217.2) scale(0.9609,1)" font-size="21.68" fill="#262626" text-anchor="middle">60</text>
<text transform="translate(1461.5,1045) scale(0.9609,1)" font-size="39.03" fill="#000" text-anchor="middle" font-weight="bold">PRN28</text>
<text transform="translate(1287.3,1142) rotate(-90) scale(0.9609,1)" font-size="30.36" fill="#0000ff" font-style="italic">σ</text>
<text transform="translate(1304,1123.9) rotate(-90) skewX(-14) scale(1.15,1)" font-family='"DejaVu Sans Light","DejaVu Sans",sans-serif' font-weight="200" font-size="25.5" fill="#0000ff">ϕ</text>
<text transform="translate(1641.6,1123.8) rotate(-90) scale(0.9609,1)" font-size="30.49" fill="#ff0000" text-anchor="middle">STEC</text>
<text transform="translate(1461.3,1254.3) scale(0.9609,1)" font-size="30.49" fill="#262626" text-anchor="middle">Time (mins)</text>
<path d="M261,1416.5h13M267.5,1410v13M263,1412l9,9M263,1421l9,-9M263,1416.5h13M269.5,1410v13M265,1412l9,9M265,1421l9,-9M265,1415.5h13M271.5,1409v13M267,1411l9,9M267,1420l9,-9M267,1414.5h13M273.5,1408v13M269,1410l9,9M269,1419l9,-9M269,1414.5h13M275.5,1408v13M271,1410l9,9M271,1419l9,-9M270,1415.5h13M276.5,1409v13M272,1411l9,9M272,1420l9,-9M272,1415.5h13M278.5,1409v13M274,1411l9,9M274,1420l9,-9M274,1415.5h13M280.5,1409v13M276,1411l9,9M276,1420l9,-9M276,1414.5h13M282.5,1408v13M278,1410l9,9M278,1419l9,-9M277,1415.5h13M283.5,1409v13M279,1411l9,9M279,1420l9,-9M279,1414.5h13M285.5,1408v13M281,1410l9,9M281,1419l9,-9M281,1416.5h13M287.5,1410v13M283,1412l9,9M283,1421l9,-9M283,1415.5h13M289.5,1409v13M285,1411l9,9M285,1420l9,-9M285,1415.5h13M291.5,1409v13M287,1411l9,9M287,1420l9,-9M286,1415.5h13M292.5,1409v13M288,1411l9,9M288,1420l9,-9M288,1415.5h13M294.5,1409v13M290,1411l9,9M290,1420l9,-9M290,1414.5h13M296.5,1408v13M292,1410l9,9M292,1419l9,-9M292,1415.5h13M298.5,1409v13M294,1411l9,9M294,1420l9,-9M293,1416.5h13M299.5,1410v13M295,1412l9,9M295,1421l9,-9M295,1414.5h13M301.5,1408v13M297,1410l9,9M297,1419l9,-9M297,1416.5h13M303.5,1410v13M299,1412l9,9M299,1421l9,-9M299,1415.5h13M305.5,1409v13M301,1411l9,9M301,1420l9,-9M301,1416.5h13M307.5,1410v13M303,1412l9,9M303,1421l9,-9M302,1414.5h13M308.5,1408v13M304,1410l9,9M304,1419l9,-9M304,1414.5h13M310.5,1408v13M306,1410l9,9M306,1419l9,-9M306,1416.5h13M312.5,1410v13M308,1412l9,9M308,1421l9,-9M308,1416.5h13M314.5,1410v13M310,1412l9,9M310,1421l9,-9M310,1415.5h13M316.5,1409v13M312,1411l9,9M312,1420l9,-9M311,1414.5h13M317.5,1408v13M313,1410l9,9M313,1419l9,-9M313,1414.5h13M319.5,1408v13M315,1410l9,9M315,1419l9,-9M315,1415.5h13M321.5,1409v13M317,1411l9,9M317,1420l9,-9M317,1414.5h13M323.5,1408v13M319,1410l9,9M319,1419l9,-9M318,1416.5h13M324.5,1410v13M320,1412l9,9M320,1421l9,-9M320,1415.5h13M326.5,1409v13M322,1411l9,9M322,1420l9,-9M322,1414.5h13M328.5,1408v13M324,1410l9,9M324,1419l9,-9M324,1415.5h13M330.5,1409v13M326,1411l9,9M326,1420l9,-9M326,1414.5h13M332.5,1408v13M328,1410l9,9M328,1419l9,-9M327,1416.5h13M333.5,1410v13M329,1412l9,9M329,1421l9,-9M329,1416.5h13M335.5,1410v13M331,1412l9,9M331,1421l9,-9M331,1415.5h13M337.5,1409v13M333,1411l9,9M333,1420l9,-9M333,1415.5h13M339.5,1409v13M335,1411l9,9M335,1420l9,-9M335,1415.5h13M341.5,1409v13M337,1411l9,9M337,1420l9,-9M336,1416.5h13M342.5,1410v13M338,1412l9,9M338,1421l9,-9M338,1416.5h13M344.5,1410v13M340,1412l9,9M340,1421l9,-9M340,1414.5h13M346.5,1408v13M342,1410l9,9M342,1419l9,-9M342,1414.5h13M348.5,1408v13M344,1410l9,9M344,1419l9,-9M343,1415.5h13M349.5,1409v13M345,1411l9,9M345,1420l9,-9M345,1414.5h13M351.5,1408v13M347,1410l9,9M347,1419l9,-9M347,1415.5h13M353.5,1409v13M349,1411l9,9M349,1420l9,-9M349,1414.5h13M355.5,1408v13M351,1410l9,9M351,1419l9,-9M351,1416.5h13M357.5,1410v13M353,1412l9,9M353,1421l9,-9M352,1415.5h13M358.5,1409v13M354,1411l9,9M354,1420l9,-9M354,1414.5h13M360.5,1408v13M356,1410l9,9M356,1419l9,-9M356,1415.5h13M362.5,1409v13M358,1411l9,9M358,1420l9,-9M358,1414.5h13M364.5,1408v13M360,1410l9,9M360,1419l9,-9M360,1414.5h13M366.5,1408v13M362,1410l9,9M362,1419l9,-9M361,1415.5h13M367.5,1409v13M363,1411l9,9M363,1420l9,-9M363,1414.5h13M369.5,1408v13M365,1410l9,9M365,1419l9,-9M365,1414.5h13M371.5,1408v13M367,1410l9,9M367,1419l9,-9M367,1416.5h13M373.5,1410v13M369,1412l9,9M369,1421l9,-9M368,1415.5h13M374.5,1409v13M370,1411l9,9M370,1420l9,-9M370,1414.5h13M376.5,1408v13M372,1410l9,9M372,1419l9,-9M372,1415.5h13M378.5,1409v13M374,1411l9,9M374,1420l9,-9M374,1414.5h13M380.5,1408v13M376,1410l9,9M376,1419l9,-9M376,1414.5h13M382.5,1408v13M378,1410l9,9M378,1419l9,-9M377,1416.5h13M383.5,1410v13M379,1412l9,9M379,1421l9,-9M379,1415.5h13M385.5,1409v13M381,1411l9,9M381,1420l9,-9M381,1414.5h13M387.5,1408v13M383,1410l9,9M383,1419l9,-9M383,1415.5h13M389.5,1409v13M385,1411l9,9M385,1420l9,-9M385,1415.5h13M391.5,1409v13M387,1411l9,9M387,1420l9,-9M386,1414.5h13M392.5,1408v13M388,1410l9,9M388,1419l9,-9M388,1416.5h13M394.5,1410v13M390,1412l9,9M390,1421l9,-9M390,1414.5h13M396.5,1408v13M392,1410l9,9M392,1419l9,-9M392,1415.5h13M398.5,1409v13M394,1411l9,9M394,1420l9,-9M393,1415.5h13M399.5,1409v13M395,1411l9,9M395,1420l9,-9M395,1415.5h13M401.5,1409v13M397,1411l9,9M397,1420l9,-9M397,1416.5h13M403.5,1410v13M399,1412l9,9M399,1421l9,-9M399,1414.5h13M405.5,1408v13M401,1410l9,9M401,1419l9,-9M401,1416.5h13M407.5,1410v13M403,1412l9,9M403,1421l9,-9M402,1416.5h13M408.5,1410v13M404,1412l9,9M404,1421l9,-9M404,1415.5h13M410.5,1409v13M406,1411l9,9M406,1420l9,-9M406,1416.5h13M412.5,1410v13M408,1412l9,9M408,1421l9,-9M408,1414.5h13M414.5,1408v13M410,1410l9,9M410,1419l9,-9M410,1415.5h13M416.5,1409v13M412,1411l9,9M412,1420l9,-9M411,1415.5h13M417.5,1409v13M413,1411l9,9M413,1420l9,-9M413,1414.5h13M419.5,1408v13M415,1410l9,9M415,1419l9,-9M415,1414.5h13M421.5,1408v13M417,1410l9,9M417,1419l9,-9M417,1414.5h13M423.5,1408v13M419,1410l9,9M419,1419l9,-9M418,1413.5h13M424.5,1407v13M420,1409l9,9M420,1418l9,-9M420,1412.5h13M426.5,1406v13M422,1408l9,9M422,1417l9,-9M422,1414.5h13M428.5,1408v13M424,1410l9,9M424,1419l9,-9" fill="none" stroke="#0000ff" stroke-width="1" shape-rendering="crispEdges"/>
<g shape-rendering="crispEdges" fill="none" stroke-width="1">
<path d="M215,1445.5H429M250.5,1445.5v-6.5M286.5,1445.5v-6.5M322.5,1445.5v-6.5M357.5,1445.5v-6.5M393.5,1445.5v-6.5" stroke="#262626"/>
<path d="M215.5,1315V1446M215,1445.5h7M215.5,1419.5h6.5M215.5,1367.5h6.5M215.5,1315.5h6.5" stroke="#0000ff"/>
<path d="M428.5,1315V1446M429,1445.5h-3M428.5,1419.5h-2.5M428.5,1393.5h-2.5M428.5,1367.5h-2.5M428.5,1341.5h-2.5M428.5,1315.5h-2.5" stroke="#ff0000"/>
</g>
<text transform="translate(207,1454.25) scale(0.9609,1)" font-size="21.68" fill="#0000ff" text-anchor="end">0</text>
<text transform="translate(207,1428.03) scale(0.9609,1)" font-size="21.68" fill="#0000ff" text-anchor="end">0.1</text>
<text transform="translate(207,1375.59) scale(0.9609,1)" font-size="21.68" fill="#0000ff" text-anchor="end">0.3</text>
<text transform="translate(207,1323.15) scale(0.9609,1)" font-size="21.68" fill="#0000ff" text-anchor="end">0.5</text>
<text transform="translate(437,1454.25) scale(0.9609,1)" font-size="21.68" fill="#ff0000">0</text>
<text transform="translate(437,1428.03) scale(0.9609,1)" font-size="21.68" fill="#ff0000">0.2</text>
<text transform="translate(437,1401.81) scale(0.9609,1)" font-size="21.68" fill="#ff0000">0.4</text>
<text transform="translate(437,1375.59) scale(0.9609,1)" font-size="21.68" fill="#ff0000">0.6</text>
<text transform="translate(437,1349.37) scale(0.9609,1)" font-size="21.68" fill="#ff0000">0.8</text>
<text transform="translate(437,1323.15) scale(0.9609,1)" font-size="21.68" fill="#ff0000">1</text>
<text transform="translate(214.7,1475.2) scale(0.9609,1)" font-size="21.68" fill="#262626" text-anchor="middle">-60</text>
<text transform="translate(250.2,1475.2) scale(0.9609,1)" font-size="21.68" fill="#262626" text-anchor="middle">-40</text>
<text transform="translate(285.7,1475.2) scale(0.9609,1)" font-size="21.68" fill="#262626" text-anchor="middle">-20</text>
<text transform="translate(316.2,1475.2) scale(0.9609,1)" font-size="21.68" fill="#262626" text-anchor="middle">0</text>
<text transform="translate(354.6,1475.2) scale(0.9609,1)" font-size="21.68" fill="#262626" text-anchor="middle">20</text>
<text transform="translate(390.1,1475.2) scale(0.9609,1)" font-size="21.68" fill="#262626" text-anchor="middle">40</text>
<text transform="translate(425.6,1475.2) scale(0.9609,1)" font-size="21.68" fill="#262626" text-anchor="middle">60</text>
<text transform="translate(322.5,1302) scale(0.9609,1)" font-size="39.03" fill="#000" text-anchor="middle" font-weight="bold">PRN30</text>
<text transform="translate(148.3,1399) rotate(-90) scale(0.9609,1)" font-size="30.36" fill="#0000ff" font-style="italic">σ</text>
<text transform="translate(165,1380.9) rotate(-90) skewX(-14) scale(1.15,1)" font-family='"DejaVu Sans Light","DejaVu Sans",sans-serif' font-weight="200" font-size="25.5" fill="#0000ff">ϕ</text>
<text transform="translate(502.6,1380.8) rotate(-90) scale(0.9609,1)" font-size="30.49" fill="#ff0000" text-anchor="middle">STEC</text>
<text transform="translate(322.3,1512.3) scale(0.9609,1)" font-size="30.49" fill="#262626" text-anchor="middle">Time (mins)</text>
</svg></body></html>
